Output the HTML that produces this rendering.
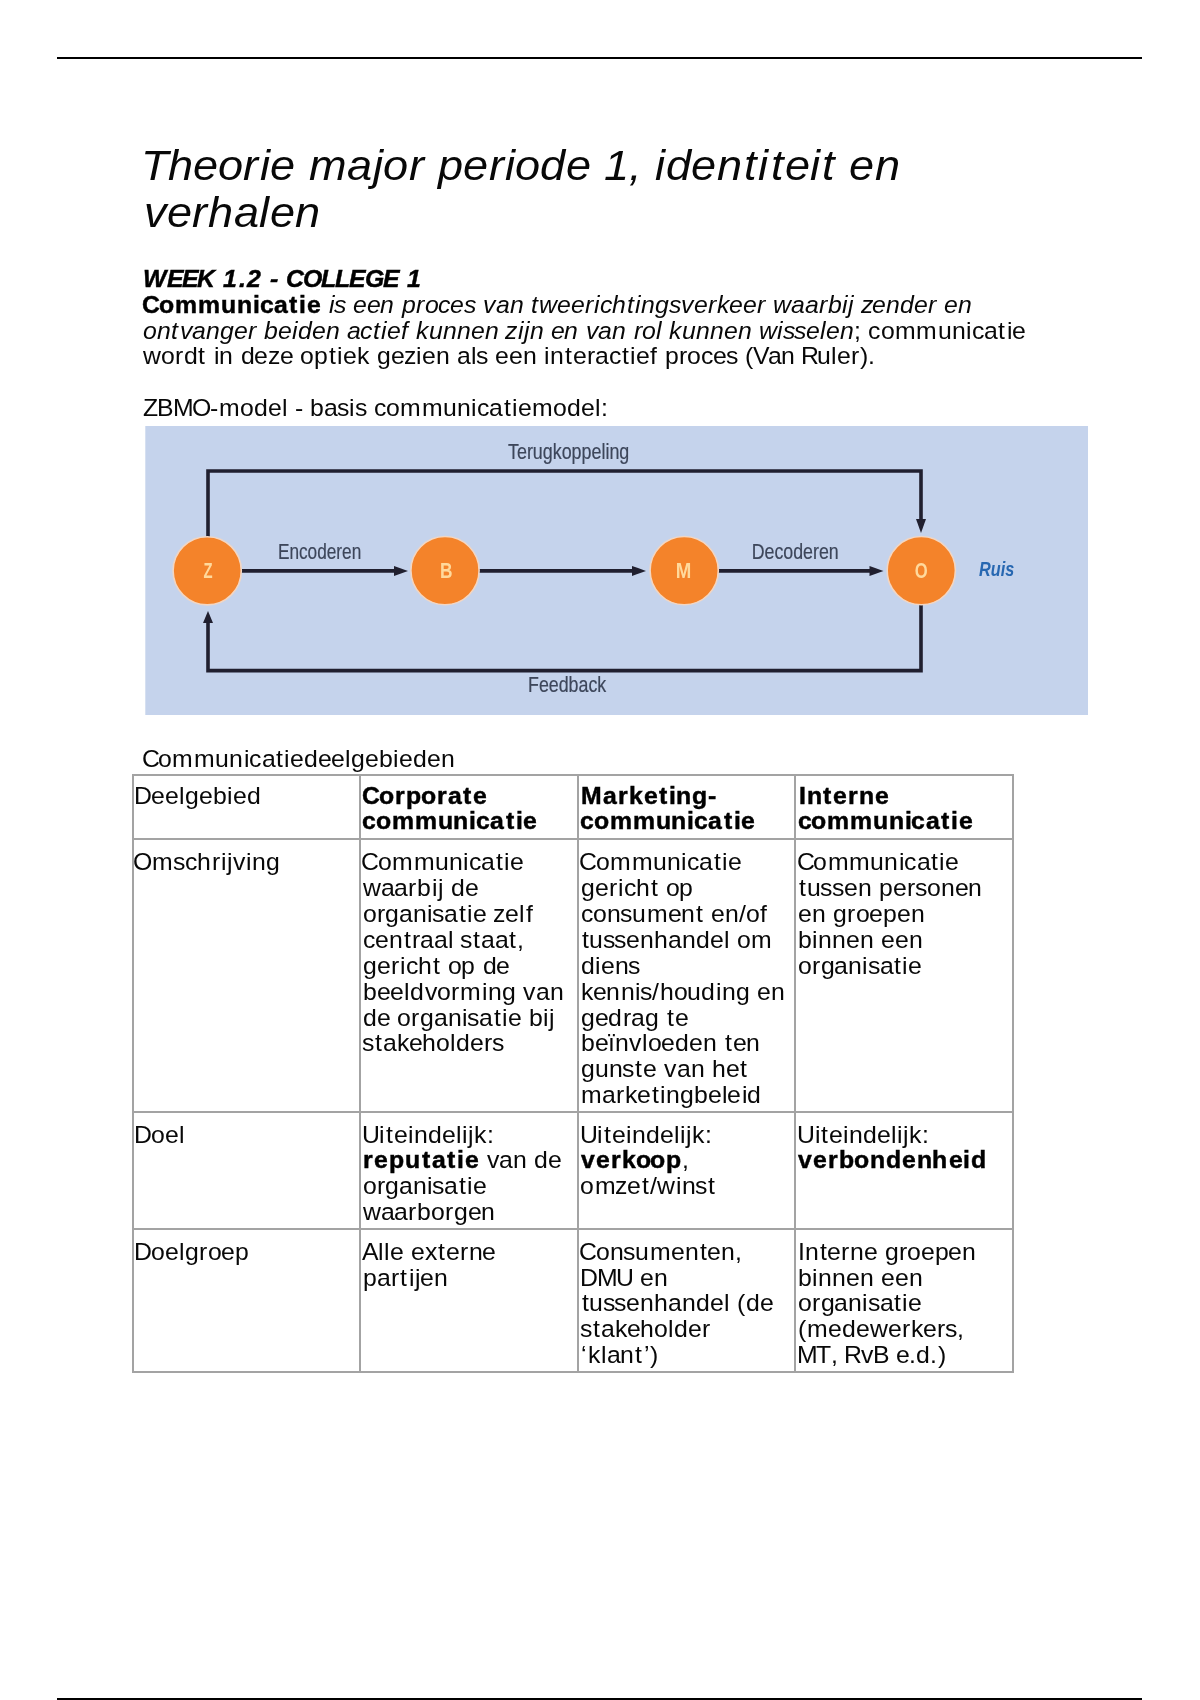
<!DOCTYPE html>
<html lang="nl"><head><meta charset="utf-8"><title>Theorie major periode 1, identiteit en verhalen</title>
<style>
html,body{margin:0;padding:0;background:#fff}
body{width:1200px;height:1700px;position:relative;overflow:hidden;font-family:"Liberation Sans", sans-serif;color:#000}
.t{position:absolute;left:0;top:0;width:1200px;height:1700px;will-change:transform}
.t span,span.r,span.b,span.i,span.bi{position:absolute;white-space:pre;line-height:0;transform-origin:0 0}
.r{font-weight:400;font-style:normal;color:#080808}
.b{font-weight:700;font-style:normal;-webkit-text-stroke:0.45px #000}
.i{font-weight:400;font-style:italic;color:#080808}
.bi{font-weight:700;font-style:italic;-webkit-text-stroke:0.45px #000}
.rule{position:absolute;left:57px;width:1085px;height:2px;background:#000}
.hl{position:absolute;background:#a3a3a3}
#diagram{position:absolute;left:0;top:0}
</style></head><body>
<div class="rule" style="top:57px"></div>
<div class="rule" style="top:1698px"></div>
<svg id="diagram" width="1200" height="1700" viewBox="0 0 1200 1700" style="position:absolute;left:0;top:0;will-change:transform">
<rect x="145.3" y="426" width="942.7" height="289" fill="#c5d3ec"/>
<g fill="none" stroke="#201f2f" stroke-width="3.6" stroke-linejoin="miter" stroke-linecap="butt">
<path d="M208 540 V471 H921 V520"/>
<path d="M921 602 V670.6 H208 V622"/>
<path d="M240 570.9 H396"/>
<path d="M478 570.9 H634"/>
<path d="M717 570.9 H872"/>
</g>
<g fill="#201f2f">
<path d="M916 519 H926 L921 533 Z"/>
<path d="M203 623 H213 L208 611 Z"/>
<path d="M394 565.9 V575.9 L408 570.9 Z"/>
<path d="M632 565.9 V575.9 L646 570.9 Z"/>
<path d="M869.5 565.9 V575.9 L883.5 570.9 Z"/>
</g>
<g fill="#f4832a" stroke="#f3d6c2" stroke-width="1.6">
<circle cx="207.2" cy="570.8" r="34.1"/>
<circle cx="445" cy="570.6" r="34.1"/>
<circle cx="684.2" cy="570.6" r="34.1"/>
<circle cx="921.3" cy="570.6" r="34.1"/>
</g>
<g font-family="Liberation Sans, sans-serif" fill="#ffd99c" font-size="22.5" font-weight="700" text-anchor="middle">
<text transform="translate(208 577.8) scale(0.66 1)">Z</text>
<text transform="translate(446.2 577.8) scale(0.77 1)">B</text>
<text transform="translate(683.6 577.8) scale(0.83 1)">M</text>
<text transform="translate(921.3 577.8) scale(0.74 1)">O</text>
</g>
<g font-family="Liberation Sans, sans-serif" fill="#3d465a" stroke="#3d465a" stroke-width="0.2" font-size="21.5">
<text x="508" y="458.7" textLength="121.3" lengthAdjust="spacingAndGlyphs">Terugkoppeling</text>
<text x="277.9" y="559.4" textLength="83.4" lengthAdjust="spacingAndGlyphs">Encoderen</text>
<text x="751.7" y="559" textLength="87" lengthAdjust="spacingAndGlyphs">Decoderen</text>
<text x="528" y="692.1" textLength="78.2" lengthAdjust="spacingAndGlyphs">Feedback</text>
</g>
<text x="979" y="575.7" textLength="35.2" lengthAdjust="spacingAndGlyphs" font-family="Liberation Sans, sans-serif" font-size="20.5" font-weight="700" font-style="italic" fill="#2767b1">Ruis</text>
</svg>

<div id="grid"></div>
<div class="hl" style="left:131.50px;top:773.90px;width:2.0px;height:599.40px"></div>
<div class="hl" style="left:359.00px;top:773.90px;width:2.0px;height:599.40px"></div>
<div class="hl" style="left:576.50px;top:773.90px;width:2.0px;height:599.40px"></div>
<div class="hl" style="left:794.00px;top:773.90px;width:2.0px;height:599.40px"></div>
<div class="hl" style="left:1011.50px;top:773.90px;width:2.0px;height:599.40px"></div>
<div class="hl" style="left:131.50px;top:773.90px;width:882.00px;height:2.0px"></div>
<div class="hl" style="left:131.50px;top:838.30px;width:882.00px;height:2.0px"></div>
<div class="hl" style="left:131.50px;top:1111.00px;width:882.00px;height:2.0px"></div>
<div class="hl" style="left:131.50px;top:1227.70px;width:882.00px;height:2.0px"></div>
<div class="hl" style="left:131.50px;top:1371.30px;width:882.00px;height:2.0px"></div>
<div class="t">
<span class="i" style="left:141.44px;top:165.00px;font-size:42.96px;transform:scaleX(1.0500)">T</span>
<span class="i" style="left:167.78px;top:165.00px;font-size:42.96px;transform:scaleX(1.0500)">h</span>
<span class="i" style="left:192.97px;top:165.00px;font-size:42.96px;transform:scaleX(1.0500)">e</span>
<span class="i" style="left:217.72px;top:165.00px;font-size:42.96px;transform:scaleX(1.0500)">o</span>
<span class="i" style="left:243.38px;top:165.00px;font-size:42.96px;transform:scaleX(1.0500)">r</span>
<span class="i" style="left:259.77px;top:165.00px;font-size:42.96px;transform:scaleX(1.0500)">i</span>
<span class="i" style="left:270.25px;top:165.00px;font-size:42.96px;transform:scaleX(1.0500)">e</span>
<span class="i" style="left:308.89px;top:165.00px;font-size:42.96px;transform:scaleX(1.0500)">m</span>
<span class="i" style="left:347.14px;top:165.00px;font-size:42.96px;transform:scaleX(1.0500)">a</span>
<span class="i" style="left:372.63px;top:165.00px;font-size:42.96px;transform:scaleX(1.0500)">j</span>
<span class="i" style="left:383.04px;top:165.00px;font-size:42.96px;transform:scaleX(1.0500)">o</span>
<span class="i" style="left:408.70px;top:165.00px;font-size:42.96px;transform:scaleX(1.0500)">r</span>
<span class="i" style="left:437.59px;top:165.00px;font-size:42.96px;transform:scaleX(1.0500)">p</span>
<span class="i" style="left:462.80px;top:165.00px;font-size:42.96px;transform:scaleX(1.0500)">e</span>
<span class="i" style="left:488.53px;top:165.00px;font-size:42.96px;transform:scaleX(1.0500)">r</span>
<span class="i" style="left:504.92px;top:165.00px;font-size:42.96px;transform:scaleX(1.0500)">i</span>
<span class="i" style="left:515.33px;top:165.00px;font-size:42.96px;transform:scaleX(1.0500)">o</span>
<span class="i" style="left:540.48px;top:165.00px;font-size:42.96px;transform:scaleX(1.0500)">d</span>
<span class="i" style="left:565.69px;top:165.00px;font-size:42.96px;transform:scaleX(1.0500)">e</span>
<span class="i" style="left:603.75px;top:165.00px;font-size:42.96px;transform:scaleX(1.0500)">1</span>
<span class="i" style="left:629.27px;top:165.00px;font-size:42.96px;transform:scaleX(1.0500)">,</span>
<span class="i" style="left:655.36px;top:165.00px;font-size:42.96px;transform:scaleX(1.0500)">i</span>
<span class="i" style="left:666.23px;top:165.00px;font-size:42.96px;transform:scaleX(1.0500)">d</span>
<span class="i" style="left:691.44px;top:165.00px;font-size:42.96px;transform:scaleX(1.0500)">e</span>
<span class="i" style="left:716.63px;top:165.00px;font-size:42.96px;transform:scaleX(1.0500)">n</span>
<span class="i" style="left:743.60px;top:165.00px;font-size:42.96px;transform:scaleX(1.0500)">t</span>
<span class="i" style="left:758.36px;top:165.00px;font-size:42.96px;transform:scaleX(1.0500)">i</span>
<span class="i" style="left:770.62px;top:165.00px;font-size:42.96px;transform:scaleX(1.0500)">t</span>
<span class="i" style="left:784.66px;top:165.00px;font-size:42.96px;transform:scaleX(1.0500)">e</span>
<span class="i" style="left:810.20px;top:165.00px;font-size:42.96px;transform:scaleX(1.0500)">i</span>
<span class="i" style="left:822.46px;top:165.00px;font-size:42.96px;transform:scaleX(1.0500)">t</span>
<span class="i" style="left:849.32px;top:165.00px;font-size:42.96px;transform:scaleX(1.0500)">e</span>
<span class="i" style="left:874.51px;top:165.00px;font-size:42.96px;transform:scaleX(1.0500)">n</span>
<span class="i" style="left:143.56px;top:211.50px;font-size:42.96px;transform:scaleX(1.0500)">v</span>
<span class="i" style="left:166.64px;top:211.50px;font-size:42.96px;transform:scaleX(1.0500)">e</span>
<span class="i" style="left:192.37px;top:211.50px;font-size:42.96px;transform:scaleX(1.0500)">r</span>
<span class="i" style="left:208.41px;top:211.50px;font-size:42.96px;transform:scaleX(1.0500)">h</span>
<span class="i" style="left:233.55px;top:211.50px;font-size:42.96px;transform:scaleX(1.0500)">a</span>
<span class="i" style="left:259.05px;top:211.50px;font-size:42.96px;transform:scaleX(1.0500)">l</span>
<span class="i" style="left:269.53px;top:211.50px;font-size:42.96px;transform:scaleX(1.0500)">e</span>
<span class="i" style="left:294.72px;top:211.50px;font-size:42.96px;transform:scaleX(1.0500)">n</span>
<span class="bi" style="left:143.43px;top:278.90px;font-size:23.63px;transform:scaleX(1.0500)">W</span>
<span class="bi" style="left:166.67px;top:278.90px;font-size:23.63px;transform:scaleX(1.0500)">E</span>
<span class="bi" style="left:181.83px;top:278.90px;font-size:23.63px;transform:scaleX(1.0500)">E</span>
<span class="bi" style="left:197.32px;top:278.90px;font-size:23.63px;transform:scaleX(1.0500)">K</span>
<span class="bi" style="left:223.41px;top:278.90px;font-size:23.63px;transform:scaleX(1.0500)">1</span>
<span class="bi" style="left:238.80px;top:278.90px;font-size:23.63px;transform:scaleX(1.0500)">.</span>
<span class="bi" style="left:247.28px;top:278.90px;font-size:23.63px;transform:scaleX(1.0500)">2</span>
<span class="bi" style="left:270.09px;top:278.90px;font-size:23.63px;transform:scaleX(1.0500)">-</span>
<span class="bi" style="left:285.73px;top:278.90px;font-size:23.63px;transform:scaleX(1.0500)">C</span>
<span class="bi" style="left:302.61px;top:278.90px;font-size:23.63px;transform:scaleX(1.0500)">O</span>
<span class="bi" style="left:321.18px;top:278.90px;font-size:23.63px;transform:scaleX(1.0500)">L</span>
<span class="bi" style="left:335.32px;top:278.90px;font-size:23.63px;transform:scaleX(1.0500)">L</span>
<span class="bi" style="left:349.27px;top:278.90px;font-size:23.63px;transform:scaleX(1.0500)">E</span>
<span class="bi" style="left:364.57px;top:278.90px;font-size:23.63px;transform:scaleX(1.0500)">G</span>
<span class="bi" style="left:382.63px;top:278.90px;font-size:23.63px;transform:scaleX(1.0500)">E</span>
<span class="bi" style="left:407.02px;top:278.90px;font-size:23.63px;transform:scaleX(1.0500)">1</span>
<span class="b" style="left:142.08px;top:304.72px;font-size:23.63px;transform:scaleX(1.0500)">C</span>
<span class="b" style="left:159.22px;top:304.72px;font-size:23.63px;transform:scaleX(1.0500)">o</span>
<span class="b" style="left:174.95px;top:304.72px;font-size:23.63px;transform:scaleX(1.0500)">m</span>
<span class="b" style="left:198.07px;top:304.72px;font-size:23.63px;transform:scaleX(1.0500)">m</span>
<span class="b" style="left:220.98px;top:304.72px;font-size:23.63px;transform:scaleX(1.0500)">u</span>
<span class="b" style="left:236.77px;top:304.72px;font-size:23.63px;transform:scaleX(1.0500)">n</span>
<span class="b" style="left:252.60px;top:304.72px;font-size:23.63px;transform:scaleX(1.0500)">i</span>
<span class="b" style="left:259.53px;top:304.72px;font-size:23.63px;transform:scaleX(1.0500)">c</span>
<span class="b" style="left:273.59px;top:304.72px;font-size:23.63px;transform:scaleX(1.0500)">a</span>
<span class="b" style="left:289.14px;top:304.72px;font-size:23.63px;transform:scaleX(1.0500)">t</span>
<span class="b" style="left:298.93px;top:304.72px;font-size:23.63px;transform:scaleX(1.0500)">i</span>
<span class="b" style="left:306.80px;top:304.72px;font-size:23.63px;transform:scaleX(1.0500)">e</span>
<span class="i" style="left:328.60px;top:304.72px;font-size:23.63px;transform:scaleX(1.0500)">i</span>
<span class="i" style="left:334.02px;top:304.72px;font-size:23.63px;transform:scaleX(1.0500)">s</span>
<span class="i" style="left:352.98px;top:304.72px;font-size:23.63px;transform:scaleX(1.0500)">e</span>
<span class="i" style="left:366.63px;top:304.72px;font-size:23.63px;transform:scaleX(1.0500)">e</span>
<span class="i" style="left:380.48px;top:304.72px;font-size:23.63px;transform:scaleX(1.0500)">n</span>
<span class="i" style="left:401.60px;top:304.72px;font-size:23.63px;transform:scaleX(1.0500)">p</span>
<span class="i" style="left:415.97px;top:304.72px;font-size:23.63px;transform:scaleX(1.0500)">r</span>
<span class="i" style="left:424.55px;top:304.72px;font-size:23.63px;transform:scaleX(1.0500)">o</span>
<span class="i" style="left:438.13px;top:304.72px;font-size:23.63px;transform:scaleX(1.0500)">c</span>
<span class="i" style="left:450.36px;top:304.72px;font-size:23.63px;transform:scaleX(1.0500)">e</span>
<span class="i" style="left:463.66px;top:304.72px;font-size:23.63px;transform:scaleX(1.0500)">s</span>
<span class="i" style="left:483.06px;top:304.72px;font-size:23.63px;transform:scaleX(1.0500)">v</span>
<span class="i" style="left:495.72px;top:304.72px;font-size:23.63px;transform:scaleX(1.0500)">a</span>
<span class="i" style="left:509.55px;top:304.72px;font-size:23.63px;transform:scaleX(1.0500)">n</span>
<span class="i" style="left:531.43px;top:304.72px;font-size:23.63px;transform:scaleX(1.0500)">t</span>
<span class="i" style="left:539.34px;top:304.72px;font-size:23.63px;transform:scaleX(1.0500)">w</span>
<span class="i" style="left:557.30px;top:304.72px;font-size:23.63px;transform:scaleX(1.0500)">e</span>
<span class="i" style="left:570.95px;top:304.72px;font-size:23.63px;transform:scaleX(1.0500)">e</span>
<span class="i" style="left:585.10px;top:304.72px;font-size:23.63px;transform:scaleX(1.0500)">r</span>
<span class="i" style="left:594.12px;top:304.72px;font-size:23.63px;transform:scaleX(1.0500)">i</span>
<span class="i" style="left:599.85px;top:304.72px;font-size:23.63px;transform:scaleX(1.0500)">c</span>
<span class="i" style="left:612.29px;top:304.72px;font-size:23.63px;transform:scaleX(1.0500)">h</span>
<span class="i" style="left:627.12px;top:304.72px;font-size:23.63px;transform:scaleX(1.0500)">t</span>
<span class="i" style="left:635.24px;top:304.72px;font-size:23.63px;transform:scaleX(1.0500)">i</span>
<span class="i" style="left:641.21px;top:304.72px;font-size:23.63px;transform:scaleX(1.0500)">n</span>
<span class="i" style="left:655.28px;top:304.72px;font-size:23.63px;transform:scaleX(1.0500)">g</span>
<span class="i" style="left:668.80px;top:304.72px;font-size:23.63px;transform:scaleX(1.0500)">s</span>
<span class="i" style="left:681.14px;top:304.72px;font-size:23.63px;transform:scaleX(1.0500)">v</span>
<span class="i" style="left:693.83px;top:304.72px;font-size:23.63px;transform:scaleX(1.0500)">e</span>
<span class="i" style="left:707.99px;top:304.72px;font-size:23.63px;transform:scaleX(1.0500)">r</span>
<span class="i" style="left:716.90px;top:304.72px;font-size:23.63px;transform:scaleX(1.0500)">k</span>
<span class="i" style="left:729.45px;top:304.72px;font-size:23.63px;transform:scaleX(1.0500)">e</span>
<span class="i" style="left:743.10px;top:304.72px;font-size:23.63px;transform:scaleX(1.0500)">e</span>
<span class="i" style="left:757.25px;top:304.72px;font-size:23.63px;transform:scaleX(1.0500)">r</span>
<span class="i" style="left:773.11px;top:304.72px;font-size:23.63px;transform:scaleX(1.0500)">w</span>
<span class="i" style="left:791.04px;top:304.72px;font-size:23.63px;transform:scaleX(1.0500)">a</span>
<span class="i" style="left:804.63px;top:304.72px;font-size:23.63px;transform:scaleX(1.0500)">a</span>
<span class="i" style="left:818.76px;top:304.72px;font-size:23.63px;transform:scaleX(1.0500)">r</span>
<span class="i" style="left:827.59px;top:304.72px;font-size:23.63px;transform:scaleX(1.0500)">b</span>
<span class="i" style="left:841.86px;top:304.72px;font-size:23.63px;transform:scaleX(1.0500)">i</span>
<span class="i" style="left:848.02px;top:304.72px;font-size:23.63px;transform:scaleX(1.0500)">j</span>
<span class="i" style="left:860.53px;top:304.72px;font-size:23.63px;transform:scaleX(1.0500)">z</span>
<span class="i" style="left:872.48px;top:304.72px;font-size:23.63px;transform:scaleX(1.0500)">e</span>
<span class="i" style="left:886.34px;top:304.72px;font-size:23.63px;transform:scaleX(1.0500)">n</span>
<span class="i" style="left:900.41px;top:304.72px;font-size:23.63px;transform:scaleX(1.0500)">d</span>
<span class="i" style="left:914.28px;top:304.72px;font-size:23.63px;transform:scaleX(1.0500)">e</span>
<span class="i" style="left:928.43px;top:304.72px;font-size:23.63px;transform:scaleX(1.0500)">r</span>
<span class="i" style="left:944.10px;top:304.72px;font-size:23.63px;transform:scaleX(1.0500)">e</span>
<span class="i" style="left:957.95px;top:304.72px;font-size:23.63px;transform:scaleX(1.0500)">n</span>
<span class="i" style="left:142.79px;top:330.54px;font-size:23.63px;transform:scaleX(1.0500)">o</span>
<span class="i" style="left:156.60px;top:330.54px;font-size:23.63px;transform:scaleX(1.0500)">n</span>
<span class="i" style="left:171.44px;top:330.54px;font-size:23.63px;transform:scaleX(1.0500)">t</span>
<span class="i" style="left:179.59px;top:330.54px;font-size:23.63px;transform:scaleX(1.0500)">v</span>
<span class="i" style="left:192.26px;top:330.54px;font-size:23.63px;transform:scaleX(1.0500)">a</span>
<span class="i" style="left:206.09px;top:330.54px;font-size:23.63px;transform:scaleX(1.0500)">n</span>
<span class="i" style="left:220.16px;top:330.54px;font-size:23.63px;transform:scaleX(1.0500)">g</span>
<span class="i" style="left:234.02px;top:330.54px;font-size:23.63px;transform:scaleX(1.0500)">e</span>
<span class="i" style="left:248.18px;top:330.54px;font-size:23.63px;transform:scaleX(1.0500)">r</span>
<span class="i" style="left:264.06px;top:330.54px;font-size:23.63px;transform:scaleX(1.0500)">b</span>
<span class="i" style="left:277.93px;top:330.54px;font-size:23.63px;transform:scaleX(1.0500)">e</span>
<span class="i" style="left:291.98px;top:330.54px;font-size:23.63px;transform:scaleX(1.0500)">i</span>
<span class="i" style="left:297.96px;top:330.54px;font-size:23.63px;transform:scaleX(1.0500)">d</span>
<span class="i" style="left:311.82px;top:330.54px;font-size:23.63px;transform:scaleX(1.0500)">e</span>
<span class="i" style="left:325.68px;top:330.54px;font-size:23.63px;transform:scaleX(1.0500)">n</span>
<span class="i" style="left:346.56px;top:330.54px;font-size:23.63px;transform:scaleX(1.0500)">a</span>
<span class="i" style="left:360.15px;top:330.54px;font-size:23.63px;transform:scaleX(1.0500)">c</span>
<span class="i" style="left:373.35px;top:330.54px;font-size:23.63px;transform:scaleX(1.0500)">t</span>
<span class="i" style="left:381.48px;top:330.54px;font-size:23.63px;transform:scaleX(1.0500)">i</span>
<span class="i" style="left:387.24px;top:330.54px;font-size:23.63px;transform:scaleX(1.0500)">e</span>
<span class="i" style="left:401.42px;top:330.54px;font-size:23.63px;transform:scaleX(1.0500)">f</span>
<span class="i" style="left:416.05px;top:330.54px;font-size:23.63px;transform:scaleX(1.0500)">k</span>
<span class="i" style="left:428.80px;top:330.54px;font-size:23.63px;transform:scaleX(1.0500)">u</span>
<span class="i" style="left:442.86px;top:330.54px;font-size:23.63px;transform:scaleX(1.0500)">n</span>
<span class="i" style="left:456.93px;top:330.54px;font-size:23.63px;transform:scaleX(1.0500)">n</span>
<span class="i" style="left:470.78px;top:330.54px;font-size:23.63px;transform:scaleX(1.0500)">e</span>
<span class="i" style="left:484.64px;top:330.54px;font-size:23.63px;transform:scaleX(1.0500)">n</span>
<span class="i" style="left:505.24px;top:330.54px;font-size:23.63px;transform:scaleX(1.0500)">z</span>
<span class="i" style="left:517.59px;top:330.54px;font-size:23.63px;transform:scaleX(1.0500)">i</span>
<span class="i" style="left:523.75px;top:330.54px;font-size:23.63px;transform:scaleX(1.0500)">j</span>
<span class="i" style="left:529.72px;top:330.54px;font-size:23.63px;transform:scaleX(1.0500)">n</span>
<span class="i" style="left:550.63px;top:330.54px;font-size:23.63px;transform:scaleX(1.0500)">e</span>
<span class="i" style="left:564.48px;top:330.54px;font-size:23.63px;transform:scaleX(1.0500)">n</span>
<span class="i" style="left:585.82px;top:330.54px;font-size:23.63px;transform:scaleX(1.0500)">v</span>
<span class="i" style="left:598.49px;top:330.54px;font-size:23.63px;transform:scaleX(1.0500)">a</span>
<span class="i" style="left:612.32px;top:330.54px;font-size:23.63px;transform:scaleX(1.0500)">n</span>
<span class="i" style="left:633.73px;top:330.54px;font-size:23.63px;transform:scaleX(1.0500)">r</span>
<span class="i" style="left:642.31px;top:330.54px;font-size:23.63px;transform:scaleX(1.0500)">o</span>
<span class="i" style="left:656.32px;top:330.54px;font-size:23.63px;transform:scaleX(1.0500)">l</span>
<span class="i" style="left:669.43px;top:330.54px;font-size:23.63px;transform:scaleX(1.0500)">k</span>
<span class="i" style="left:682.19px;top:330.54px;font-size:23.63px;transform:scaleX(1.0500)">u</span>
<span class="i" style="left:696.25px;top:330.54px;font-size:23.63px;transform:scaleX(1.0500)">n</span>
<span class="i" style="left:710.31px;top:330.54px;font-size:23.63px;transform:scaleX(1.0500)">n</span>
<span class="i" style="left:724.16px;top:330.54px;font-size:23.63px;transform:scaleX(1.0500)">e</span>
<span class="i" style="left:738.02px;top:330.54px;font-size:23.63px;transform:scaleX(1.0500)">n</span>
<span class="i" style="left:759.11px;top:330.54px;font-size:23.63px;transform:scaleX(1.0500)">w</span>
<span class="i" style="left:777.47px;top:330.54px;font-size:23.63px;transform:scaleX(1.0500)">i</span>
<span class="i" style="left:782.89px;top:330.54px;font-size:23.63px;transform:scaleX(1.0500)">s</span>
<span class="i" style="left:794.44px;top:330.54px;font-size:23.63px;transform:scaleX(1.0500)">s</span>
<span class="i" style="left:806.35px;top:330.54px;font-size:23.63px;transform:scaleX(1.0500)">e</span>
<span class="i" style="left:820.40px;top:330.54px;font-size:23.63px;transform:scaleX(1.0500)">l</span>
<span class="i" style="left:826.16px;top:330.54px;font-size:23.63px;transform:scaleX(1.0500)">e</span>
<span class="i" style="left:840.02px;top:330.54px;font-size:23.63px;transform:scaleX(1.0500)">n</span>
<span class="r" style="left:854.24px;top:330.54px;font-size:23.63px;transform:scaleX(1.0500)">;</span>
<span class="r" style="left:868.37px;top:330.54px;font-size:23.63px;transform:scaleX(1.0500)">c</span>
<span class="r" style="left:880.56px;top:330.54px;font-size:23.63px;transform:scaleX(1.0500)">o</span>
<span class="r" style="left:894.72px;top:330.54px;font-size:23.63px;transform:scaleX(1.0500)">m</span>
<span class="r" style="left:916.33px;top:330.54px;font-size:23.63px;transform:scaleX(1.0500)">m</span>
<span class="r" style="left:937.60px;top:330.54px;font-size:23.63px;transform:scaleX(1.0500)">u</span>
<span class="r" style="left:951.66px;top:330.54px;font-size:23.63px;transform:scaleX(1.0500)">n</span>
<span class="r" style="left:965.91px;top:330.54px;font-size:23.63px;transform:scaleX(1.0500)">i</span>
<span class="r" style="left:971.65px;top:330.54px;font-size:23.63px;transform:scaleX(1.0500)">c</span>
<span class="r" style="left:983.85px;top:330.54px;font-size:23.63px;transform:scaleX(1.0500)">a</span>
<span class="r" style="left:998.45px;top:330.54px;font-size:23.63px;transform:scaleX(1.0500)">t</span>
<span class="r" style="left:1006.57px;top:330.54px;font-size:23.63px;transform:scaleX(1.0500)">i</span>
<span class="r" style="left:1012.33px;top:330.54px;font-size:23.63px;transform:scaleX(1.0500)">e</span>
<span class="r" style="left:143.01px;top:356.36px;font-size:23.63px;transform:scaleX(1.0500)">w</span>
<span class="r" style="left:160.93px;top:356.36px;font-size:23.63px;transform:scaleX(1.0500)">o</span>
<span class="r" style="left:175.05px;top:356.36px;font-size:23.63px;transform:scaleX(1.0500)">r</span>
<span class="r" style="left:183.69px;top:356.36px;font-size:23.63px;transform:scaleX(1.0500)">d</span>
<span class="r" style="left:198.33px;top:356.36px;font-size:23.63px;transform:scaleX(1.0500)">t</span>
<span class="r" style="left:213.51px;top:356.36px;font-size:23.63px;transform:scaleX(1.0500)">i</span>
<span class="r" style="left:219.48px;top:356.36px;font-size:23.63px;transform:scaleX(1.0500)">n</span>
<span class="r" style="left:240.60px;top:356.36px;font-size:23.63px;transform:scaleX(1.0500)">d</span>
<span class="r" style="left:254.47px;top:356.36px;font-size:23.63px;transform:scaleX(1.0500)">e</span>
<span class="r" style="left:267.81px;top:356.36px;font-size:23.63px;transform:scaleX(1.0500)">z</span>
<span class="r" style="left:279.76px;top:356.36px;font-size:23.63px;transform:scaleX(1.0500)">e</span>
<span class="r" style="left:300.42px;top:356.36px;font-size:23.63px;transform:scaleX(1.0500)">o</span>
<span class="r" style="left:314.25px;top:356.36px;font-size:23.63px;transform:scaleX(1.0500)">p</span>
<span class="r" style="left:329.09px;top:356.36px;font-size:23.63px;transform:scaleX(1.0500)">t</span>
<span class="r" style="left:337.21px;top:356.36px;font-size:23.63px;transform:scaleX(1.0500)">i</span>
<span class="r" style="left:342.98px;top:356.36px;font-size:23.63px;transform:scaleX(1.0500)">e</span>
<span class="r" style="left:356.92px;top:356.36px;font-size:23.63px;transform:scaleX(1.0500)">k</span>
<span class="r" style="left:376.74px;top:356.36px;font-size:23.63px;transform:scaleX(1.0500)">g</span>
<span class="r" style="left:390.61px;top:356.36px;font-size:23.63px;transform:scaleX(1.0500)">e</span>
<span class="r" style="left:403.95px;top:356.36px;font-size:23.63px;transform:scaleX(1.0500)">z</span>
<span class="r" style="left:416.30px;top:356.36px;font-size:23.63px;transform:scaleX(1.0500)">i</span>
<span class="r" style="left:422.07px;top:356.36px;font-size:23.63px;transform:scaleX(1.0500)">e</span>
<span class="r" style="left:435.92px;top:356.36px;font-size:23.63px;transform:scaleX(1.0500)">n</span>
<span class="r" style="left:456.80px;top:356.36px;font-size:23.63px;transform:scaleX(1.0500)">a</span>
<span class="r" style="left:470.82px;top:356.36px;font-size:23.63px;transform:scaleX(1.0500)">l</span>
<span class="r" style="left:476.24px;top:356.36px;font-size:23.63px;transform:scaleX(1.0500)">s</span>
<span class="r" style="left:495.20px;top:356.36px;font-size:23.63px;transform:scaleX(1.0500)">e</span>
<span class="r" style="left:508.85px;top:356.36px;font-size:23.63px;transform:scaleX(1.0500)">e</span>
<span class="r" style="left:522.70px;top:356.36px;font-size:23.63px;transform:scaleX(1.0500)">n</span>
<span class="r" style="left:544.01px;top:356.36px;font-size:23.63px;transform:scaleX(1.0500)">i</span>
<span class="r" style="left:549.98px;top:356.36px;font-size:23.63px;transform:scaleX(1.0500)">n</span>
<span class="r" style="left:564.81px;top:356.36px;font-size:23.63px;transform:scaleX(1.0500)">t</span>
<span class="r" style="left:572.53px;top:356.36px;font-size:23.63px;transform:scaleX(1.0500)">e</span>
<span class="r" style="left:586.68px;top:356.36px;font-size:23.63px;transform:scaleX(1.0500)">r</span>
<span class="r" style="left:595.27px;top:356.36px;font-size:23.63px;transform:scaleX(1.0500)">a</span>
<span class="r" style="left:608.87px;top:356.36px;font-size:23.63px;transform:scaleX(1.0500)">c</span>
<span class="r" style="left:622.07px;top:356.36px;font-size:23.63px;transform:scaleX(1.0500)">t</span>
<span class="r" style="left:630.19px;top:356.36px;font-size:23.63px;transform:scaleX(1.0500)">i</span>
<span class="r" style="left:635.95px;top:356.36px;font-size:23.63px;transform:scaleX(1.0500)">e</span>
<span class="r" style="left:650.14px;top:356.36px;font-size:23.63px;transform:scaleX(1.0500)">f</span>
<span class="r" style="left:664.68px;top:356.36px;font-size:23.63px;transform:scaleX(1.0500)">p</span>
<span class="r" style="left:679.05px;top:356.36px;font-size:23.63px;transform:scaleX(1.0500)">r</span>
<span class="r" style="left:687.39px;top:356.36px;font-size:23.63px;transform:scaleX(1.0500)">o</span>
<span class="r" style="left:700.72px;top:356.36px;font-size:23.63px;transform:scaleX(1.0500)">c</span>
<span class="r" style="left:712.95px;top:356.36px;font-size:23.63px;transform:scaleX(1.0500)">e</span>
<span class="r" style="left:726.25px;top:356.36px;font-size:23.63px;transform:scaleX(1.0500)">s</span>
<span class="r" style="left:745.48px;top:356.36px;font-size:23.63px;transform:scaleX(1.0500)">(</span>
<span class="r" style="left:753.25px;top:356.36px;font-size:23.63px;transform:scaleX(1.0500)">V</span>
<span class="r" style="left:768.15px;top:356.36px;font-size:23.63px;transform:scaleX(1.0500)">a</span>
<span class="r" style="left:781.12px;top:356.36px;font-size:23.63px;transform:scaleX(1.0500)">n</span>
<span class="r" style="left:800.85px;top:356.36px;font-size:23.63px;transform:scaleX(1.0500)">R</span>
<span class="r" style="left:817.15px;top:356.36px;font-size:23.63px;transform:scaleX(1.0500)">u</span>
<span class="r" style="left:830.91px;top:356.36px;font-size:23.63px;transform:scaleX(1.0500)">l</span>
<span class="r" style="left:836.67px;top:356.36px;font-size:23.63px;transform:scaleX(1.0500)">e</span>
<span class="r" style="left:850.82px;top:356.36px;font-size:23.63px;transform:scaleX(1.0500)">r</span>
<span class="r" style="left:859.71px;top:356.36px;font-size:23.63px;transform:scaleX(1.0500)">)</span>
<span class="r" style="left:868.25px;top:356.36px;font-size:23.63px;transform:scaleX(1.0500)">.</span>
<span class="r" style="left:142.92px;top:407.80px;font-size:23.63px;transform:scaleX(1.0500)">Z</span>
<span class="r" style="left:157.43px;top:407.80px;font-size:23.63px;transform:scaleX(1.0500)">B</span>
<span class="r" style="left:172.56px;top:407.80px;font-size:23.63px;transform:scaleX(1.0500)">M</span>
<span class="r" style="left:191.54px;top:407.80px;font-size:23.63px;transform:scaleX(1.0500)">O</span>
<span class="r" style="left:210.10px;top:407.80px;font-size:23.63px;transform:scaleX(1.0500)">-</span>
<span class="r" style="left:219.02px;top:407.80px;font-size:23.63px;transform:scaleX(1.0500)">m</span>
<span class="r" style="left:240.04px;top:407.80px;font-size:23.63px;transform:scaleX(1.0500)">o</span>
<span class="r" style="left:253.87px;top:407.80px;font-size:23.63px;transform:scaleX(1.0500)">d</span>
<span class="r" style="left:267.73px;top:407.80px;font-size:23.63px;transform:scaleX(1.0500)">e</span>
<span class="r" style="left:281.78px;top:407.80px;font-size:23.63px;transform:scaleX(1.0500)">l</span>
<span class="r" style="left:294.55px;top:407.80px;font-size:23.63px;transform:scaleX(1.0500)">-</span>
<span class="r" style="left:309.87px;top:407.80px;font-size:23.63px;transform:scaleX(1.0500)">b</span>
<span class="r" style="left:323.71px;top:407.80px;font-size:23.63px;transform:scaleX(1.0500)">a</span>
<span class="r" style="left:336.99px;top:407.80px;font-size:23.63px;transform:scaleX(1.0500)">s</span>
<span class="r" style="left:349.29px;top:407.80px;font-size:23.63px;transform:scaleX(1.0500)">i</span>
<span class="r" style="left:354.71px;top:407.80px;font-size:23.63px;transform:scaleX(1.0500)">s</span>
<span class="r" style="left:373.64px;top:407.80px;font-size:23.63px;transform:scaleX(1.0500)">c</span>
<span class="r" style="left:385.83px;top:407.80px;font-size:23.63px;transform:scaleX(1.0500)">o</span>
<span class="r" style="left:399.98px;top:407.80px;font-size:23.63px;transform:scaleX(1.0500)">m</span>
<span class="r" style="left:421.59px;top:407.80px;font-size:23.63px;transform:scaleX(1.0500)">m</span>
<span class="r" style="left:442.86px;top:407.80px;font-size:23.63px;transform:scaleX(1.0500)">u</span>
<span class="r" style="left:456.92px;top:407.80px;font-size:23.63px;transform:scaleX(1.0500)">n</span>
<span class="r" style="left:471.18px;top:407.80px;font-size:23.63px;transform:scaleX(1.0500)">i</span>
<span class="r" style="left:476.91px;top:407.80px;font-size:23.63px;transform:scaleX(1.0500)">c</span>
<span class="r" style="left:489.11px;top:407.80px;font-size:23.63px;transform:scaleX(1.0500)">a</span>
<span class="r" style="left:503.71px;top:407.80px;font-size:23.63px;transform:scaleX(1.0500)">t</span>
<span class="r" style="left:511.83px;top:407.80px;font-size:23.63px;transform:scaleX(1.0500)">i</span>
<span class="r" style="left:517.60px;top:407.80px;font-size:23.63px;transform:scaleX(1.0500)">e</span>
<span class="r" style="left:531.79px;top:407.80px;font-size:23.63px;transform:scaleX(1.0500)">m</span>
<span class="r" style="left:552.82px;top:407.80px;font-size:23.63px;transform:scaleX(1.0500)">o</span>
<span class="r" style="left:566.65px;top:407.80px;font-size:23.63px;transform:scaleX(1.0500)">d</span>
<span class="r" style="left:580.51px;top:407.80px;font-size:23.63px;transform:scaleX(1.0500)">e</span>
<span class="r" style="left:594.56px;top:407.80px;font-size:23.63px;transform:scaleX(1.0500)">l</span>
<span class="r" style="left:600.69px;top:407.80px;font-size:23.63px;transform:scaleX(1.0500)">:</span>
<span class="r" style="left:141.69px;top:759.30px;font-size:23.63px;transform:scaleX(1.0500)">C</span>
<span class="r" style="left:158.28px;top:759.30px;font-size:23.63px;transform:scaleX(1.0500)">o</span>
<span class="r" style="left:172.44px;top:759.30px;font-size:23.63px;transform:scaleX(1.0500)">m</span>
<span class="r" style="left:194.05px;top:759.30px;font-size:23.63px;transform:scaleX(1.0500)">m</span>
<span class="r" style="left:215.32px;top:759.30px;font-size:23.63px;transform:scaleX(1.0500)">u</span>
<span class="r" style="left:229.38px;top:759.30px;font-size:23.63px;transform:scaleX(1.0500)">n</span>
<span class="r" style="left:243.63px;top:759.30px;font-size:23.63px;transform:scaleX(1.0500)">i</span>
<span class="r" style="left:249.37px;top:759.30px;font-size:23.63px;transform:scaleX(1.0500)">c</span>
<span class="r" style="left:261.57px;top:759.30px;font-size:23.63px;transform:scaleX(1.0500)">a</span>
<span class="r" style="left:276.17px;top:759.30px;font-size:23.63px;transform:scaleX(1.0500)">t</span>
<span class="r" style="left:284.29px;top:759.30px;font-size:23.63px;transform:scaleX(1.0500)">i</span>
<span class="r" style="left:290.05px;top:759.30px;font-size:23.63px;transform:scaleX(1.0500)">e</span>
<span class="r" style="left:303.92px;top:759.30px;font-size:23.63px;transform:scaleX(1.0500)">d</span>
<span class="r" style="left:317.78px;top:759.30px;font-size:23.63px;transform:scaleX(1.0500)">e</span>
<span class="r" style="left:331.43px;top:759.30px;font-size:23.63px;transform:scaleX(1.0500)">e</span>
<span class="r" style="left:345.48px;top:759.30px;font-size:23.63px;transform:scaleX(1.0500)">l</span>
<span class="r" style="left:351.46px;top:759.30px;font-size:23.63px;transform:scaleX(1.0500)">g</span>
<span class="r" style="left:365.33px;top:759.30px;font-size:23.63px;transform:scaleX(1.0500)">e</span>
<span class="r" style="left:379.19px;top:759.30px;font-size:23.63px;transform:scaleX(1.0500)">b</span>
<span class="r" style="left:393.46px;top:759.30px;font-size:23.63px;transform:scaleX(1.0500)">i</span>
<span class="r" style="left:399.22px;top:759.30px;font-size:23.63px;transform:scaleX(1.0500)">e</span>
<span class="r" style="left:413.09px;top:759.30px;font-size:23.63px;transform:scaleX(1.0500)">d</span>
<span class="r" style="left:426.95px;top:759.30px;font-size:23.63px;transform:scaleX(1.0500)">e</span>
<span class="r" style="left:440.81px;top:759.30px;font-size:23.63px;transform:scaleX(1.0500)">n</span>
<span class="r" style="left:133.78px;top:795.50px;font-size:23.63px;transform:scaleX(1.0500)">D</span>
<span class="r" style="left:151.21px;top:795.50px;font-size:23.63px;transform:scaleX(1.0500)">e</span>
<span class="r" style="left:164.86px;top:795.50px;font-size:23.63px;transform:scaleX(1.0500)">e</span>
<span class="r" style="left:178.91px;top:795.50px;font-size:23.63px;transform:scaleX(1.0500)">l</span>
<span class="r" style="left:184.89px;top:795.50px;font-size:23.63px;transform:scaleX(1.0500)">g</span>
<span class="r" style="left:198.75px;top:795.50px;font-size:23.63px;transform:scaleX(1.0500)">e</span>
<span class="r" style="left:212.62px;top:795.50px;font-size:23.63px;transform:scaleX(1.0500)">b</span>
<span class="r" style="left:226.88px;top:795.50px;font-size:23.63px;transform:scaleX(1.0500)">i</span>
<span class="r" style="left:232.65px;top:795.50px;font-size:23.63px;transform:scaleX(1.0500)">e</span>
<span class="r" style="left:246.51px;top:795.50px;font-size:23.63px;transform:scaleX(1.0500)">d</span>
<span class="b" style="left:361.88px;top:795.50px;font-size:23.63px;transform:scaleX(1.0500)">C</span>
<span class="b" style="left:379.02px;top:795.50px;font-size:23.63px;transform:scaleX(1.0500)">o</span>
<span class="b" style="left:394.87px;top:795.50px;font-size:23.63px;transform:scaleX(1.0500)">r</span>
<span class="b" style="left:405.53px;top:795.50px;font-size:23.63px;transform:scaleX(1.0500)">p</span>
<span class="b" style="left:421.09px;top:795.50px;font-size:23.63px;transform:scaleX(1.0500)">o</span>
<span class="b" style="left:436.93px;top:795.50px;font-size:23.63px;transform:scaleX(1.0500)">r</span>
<span class="b" style="left:447.81px;top:795.50px;font-size:23.63px;transform:scaleX(1.0500)">a</span>
<span class="b" style="left:463.37px;top:795.50px;font-size:23.63px;transform:scaleX(1.0500)">t</span>
<span class="b" style="left:473.43px;top:795.50px;font-size:23.63px;transform:scaleX(1.0500)">e</span>
<span class="b" style="left:362.38px;top:821.35px;font-size:23.63px;transform:scaleX(1.0500)">c</span>
<span class="b" style="left:375.89px;top:821.35px;font-size:23.63px;transform:scaleX(1.0500)">o</span>
<span class="b" style="left:391.62px;top:821.35px;font-size:23.63px;transform:scaleX(1.0500)">m</span>
<span class="b" style="left:414.74px;top:821.35px;font-size:23.63px;transform:scaleX(1.0500)">m</span>
<span class="b" style="left:437.65px;top:821.35px;font-size:23.63px;transform:scaleX(1.0500)">u</span>
<span class="b" style="left:453.44px;top:821.35px;font-size:23.63px;transform:scaleX(1.0500)">n</span>
<span class="b" style="left:469.27px;top:821.35px;font-size:23.63px;transform:scaleX(1.0500)">i</span>
<span class="b" style="left:476.19px;top:821.35px;font-size:23.63px;transform:scaleX(1.0500)">c</span>
<span class="b" style="left:490.26px;top:821.35px;font-size:23.63px;transform:scaleX(1.0500)">a</span>
<span class="b" style="left:505.81px;top:821.35px;font-size:23.63px;transform:scaleX(1.0500)">t</span>
<span class="b" style="left:515.60px;top:821.35px;font-size:23.63px;transform:scaleX(1.0500)">i</span>
<span class="b" style="left:523.47px;top:821.35px;font-size:23.63px;transform:scaleX(1.0500)">e</span>
<span class="b" style="left:581.31px;top:795.50px;font-size:23.63px;transform:scaleX(1.0500)">M</span>
<span class="b" style="left:603.26px;top:795.50px;font-size:23.63px;transform:scaleX(1.0500)">a</span>
<span class="b" style="left:618.29px;top:795.50px;font-size:23.63px;transform:scaleX(1.0500)">r</span>
<span class="b" style="left:629.07px;top:795.50px;font-size:23.63px;transform:scaleX(1.0500)">k</span>
<span class="b" style="left:643.67px;top:795.50px;font-size:23.63px;transform:scaleX(1.0500)">e</span>
<span class="b" style="left:658.96px;top:795.50px;font-size:23.63px;transform:scaleX(1.0500)">t</span>
<span class="b" style="left:668.75px;top:795.50px;font-size:23.63px;transform:scaleX(1.0500)">i</span>
<span class="b" style="left:676.32px;top:795.50px;font-size:23.63px;transform:scaleX(1.0500)">n</span>
<span class="b" style="left:692.16px;top:795.50px;font-size:23.63px;transform:scaleX(1.0500)">g</span>
<span class="b" style="left:708.15px;top:795.50px;font-size:23.63px;transform:scaleX(1.0500)">-</span>
<span class="b" style="left:580.28px;top:821.35px;font-size:23.63px;transform:scaleX(1.0500)">c</span>
<span class="b" style="left:593.79px;top:821.35px;font-size:23.63px;transform:scaleX(1.0500)">o</span>
<span class="b" style="left:609.52px;top:821.35px;font-size:23.63px;transform:scaleX(1.0500)">m</span>
<span class="b" style="left:632.64px;top:821.35px;font-size:23.63px;transform:scaleX(1.0500)">m</span>
<span class="b" style="left:655.55px;top:821.35px;font-size:23.63px;transform:scaleX(1.0500)">u</span>
<span class="b" style="left:671.34px;top:821.35px;font-size:23.63px;transform:scaleX(1.0500)">n</span>
<span class="b" style="left:687.17px;top:821.35px;font-size:23.63px;transform:scaleX(1.0500)">i</span>
<span class="b" style="left:694.09px;top:821.35px;font-size:23.63px;transform:scaleX(1.0500)">c</span>
<span class="b" style="left:708.16px;top:821.35px;font-size:23.63px;transform:scaleX(1.0500)">a</span>
<span class="b" style="left:723.71px;top:821.35px;font-size:23.63px;transform:scaleX(1.0500)">t</span>
<span class="b" style="left:733.50px;top:821.35px;font-size:23.63px;transform:scaleX(1.0500)">i</span>
<span class="b" style="left:741.37px;top:821.35px;font-size:23.63px;transform:scaleX(1.0500)">e</span>
<span class="b" style="left:798.68px;top:795.50px;font-size:23.63px;transform:scaleX(1.0500)">I</span>
<span class="b" style="left:806.57px;top:795.50px;font-size:23.63px;transform:scaleX(1.0500)">n</span>
<span class="b" style="left:823.22px;top:795.50px;font-size:23.63px;transform:scaleX(1.0500)">t</span>
<span class="b" style="left:833.28px;top:795.50px;font-size:23.63px;transform:scaleX(1.0500)">e</span>
<span class="b" style="left:848.34px;top:795.50px;font-size:23.63px;transform:scaleX(1.0500)">r</span>
<span class="b" style="left:858.96px;top:795.50px;font-size:23.63px;transform:scaleX(1.0500)">n</span>
<span class="b" style="left:875.06px;top:795.50px;font-size:23.63px;transform:scaleX(1.0500)">e</span>
<span class="b" style="left:797.68px;top:821.35px;font-size:23.63px;transform:scaleX(1.0500)">c</span>
<span class="b" style="left:811.19px;top:821.35px;font-size:23.63px;transform:scaleX(1.0500)">o</span>
<span class="b" style="left:826.92px;top:821.35px;font-size:23.63px;transform:scaleX(1.0500)">m</span>
<span class="b" style="left:850.04px;top:821.35px;font-size:23.63px;transform:scaleX(1.0500)">m</span>
<span class="b" style="left:872.95px;top:821.35px;font-size:23.63px;transform:scaleX(1.0500)">u</span>
<span class="b" style="left:888.74px;top:821.35px;font-size:23.63px;transform:scaleX(1.0500)">n</span>
<span class="b" style="left:904.57px;top:821.35px;font-size:23.63px;transform:scaleX(1.0500)">i</span>
<span class="b" style="left:911.49px;top:821.35px;font-size:23.63px;transform:scaleX(1.0500)">c</span>
<span class="b" style="left:925.56px;top:821.35px;font-size:23.63px;transform:scaleX(1.0500)">a</span>
<span class="b" style="left:941.11px;top:821.35px;font-size:23.63px;transform:scaleX(1.0500)">t</span>
<span class="b" style="left:950.90px;top:821.35px;font-size:23.63px;transform:scaleX(1.0500)">i</span>
<span class="b" style="left:958.77px;top:821.35px;font-size:23.63px;transform:scaleX(1.0500)">e</span>
<span class="r" style="left:133.28px;top:862.40px;font-size:23.63px;transform:scaleX(1.0500)">O</span>
<span class="r" style="left:152.13px;top:862.40px;font-size:23.63px;transform:scaleX(1.0500)">m</span>
<span class="r" style="left:172.85px;top:862.40px;font-size:23.63px;transform:scaleX(1.0500)">s</span>
<span class="r" style="left:184.73px;top:862.40px;font-size:23.63px;transform:scaleX(1.0500)">c</span>
<span class="r" style="left:197.16px;top:862.40px;font-size:23.63px;transform:scaleX(1.0500)">h</span>
<span class="r" style="left:211.52px;top:862.40px;font-size:23.63px;transform:scaleX(1.0500)">r</span>
<span class="r" style="left:220.54px;top:862.40px;font-size:23.63px;transform:scaleX(1.0500)">i</span>
<span class="r" style="left:226.70px;top:862.40px;font-size:23.63px;transform:scaleX(1.0500)">j</span>
<span class="r" style="left:232.90px;top:862.40px;font-size:23.63px;transform:scaleX(1.0500)">v</span>
<span class="r" style="left:245.99px;top:862.40px;font-size:23.63px;transform:scaleX(1.0500)">i</span>
<span class="r" style="left:251.96px;top:862.40px;font-size:23.63px;transform:scaleX(1.0500)">n</span>
<span class="r" style="left:266.03px;top:862.40px;font-size:23.63px;transform:scaleX(1.0500)">g</span>
<span class="r" style="left:361.49px;top:862.40px;font-size:23.63px;transform:scaleX(1.0500)">C</span>
<span class="r" style="left:378.08px;top:862.40px;font-size:23.63px;transform:scaleX(1.0500)">o</span>
<span class="r" style="left:392.24px;top:862.40px;font-size:23.63px;transform:scaleX(1.0500)">m</span>
<span class="r" style="left:413.85px;top:862.40px;font-size:23.63px;transform:scaleX(1.0500)">m</span>
<span class="r" style="left:435.12px;top:862.40px;font-size:23.63px;transform:scaleX(1.0500)">u</span>
<span class="r" style="left:449.18px;top:862.40px;font-size:23.63px;transform:scaleX(1.0500)">n</span>
<span class="r" style="left:463.43px;top:862.40px;font-size:23.63px;transform:scaleX(1.0500)">i</span>
<span class="r" style="left:469.17px;top:862.40px;font-size:23.63px;transform:scaleX(1.0500)">c</span>
<span class="r" style="left:481.37px;top:862.40px;font-size:23.63px;transform:scaleX(1.0500)">a</span>
<span class="r" style="left:495.97px;top:862.40px;font-size:23.63px;transform:scaleX(1.0500)">t</span>
<span class="r" style="left:504.09px;top:862.40px;font-size:23.63px;transform:scaleX(1.0500)">i</span>
<span class="r" style="left:509.85px;top:862.40px;font-size:23.63px;transform:scaleX(1.0500)">e</span>
<span class="r" style="left:362.81px;top:888.25px;font-size:23.63px;transform:scaleX(1.0500)">w</span>
<span class="r" style="left:380.74px;top:888.25px;font-size:23.63px;transform:scaleX(1.0500)">a</span>
<span class="r" style="left:394.34px;top:888.25px;font-size:23.63px;transform:scaleX(1.0500)">a</span>
<span class="r" style="left:408.46px;top:888.25px;font-size:23.63px;transform:scaleX(1.0500)">r</span>
<span class="r" style="left:417.30px;top:888.25px;font-size:23.63px;transform:scaleX(1.0500)">b</span>
<span class="r" style="left:431.56px;top:888.25px;font-size:23.63px;transform:scaleX(1.0500)">i</span>
<span class="r" style="left:437.73px;top:888.25px;font-size:23.63px;transform:scaleX(1.0500)">j</span>
<span class="r" style="left:450.76px;top:888.25px;font-size:23.63px;transform:scaleX(1.0500)">d</span>
<span class="r" style="left:464.62px;top:888.25px;font-size:23.63px;transform:scaleX(1.0500)">e</span>
<span class="r" style="left:362.59px;top:914.10px;font-size:23.63px;transform:scaleX(1.0500)">o</span>
<span class="r" style="left:376.70px;top:914.10px;font-size:23.63px;transform:scaleX(1.0500)">r</span>
<span class="r" style="left:385.34px;top:914.10px;font-size:23.63px;transform:scaleX(1.0500)">g</span>
<span class="r" style="left:398.99px;top:914.10px;font-size:23.63px;transform:scaleX(1.0500)">a</span>
<span class="r" style="left:412.81px;top:914.10px;font-size:23.63px;transform:scaleX(1.0500)">n</span>
<span class="r" style="left:427.07px;top:914.10px;font-size:23.63px;transform:scaleX(1.0500)">i</span>
<span class="r" style="left:432.48px;top:914.10px;font-size:23.63px;transform:scaleX(1.0500)">s</span>
<span class="r" style="left:444.36px;top:914.10px;font-size:23.63px;transform:scaleX(1.0500)">a</span>
<span class="r" style="left:458.96px;top:914.10px;font-size:23.63px;transform:scaleX(1.0500)">t</span>
<span class="r" style="left:467.08px;top:914.10px;font-size:23.63px;transform:scaleX(1.0500)">i</span>
<span class="r" style="left:472.85px;top:914.10px;font-size:23.63px;transform:scaleX(1.0500)">e</span>
<span class="r" style="left:493.24px;top:914.10px;font-size:23.63px;transform:scaleX(1.0500)">z</span>
<span class="r" style="left:505.19px;top:914.10px;font-size:23.63px;transform:scaleX(1.0500)">e</span>
<span class="r" style="left:519.24px;top:914.10px;font-size:23.63px;transform:scaleX(1.0500)">l</span>
<span class="r" style="left:525.54px;top:914.10px;font-size:23.63px;transform:scaleX(1.0500)">f</span>
<span class="r" style="left:362.60px;top:939.95px;font-size:23.63px;transform:scaleX(1.0500)">c</span>
<span class="r" style="left:374.82px;top:939.95px;font-size:23.63px;transform:scaleX(1.0500)">e</span>
<span class="r" style="left:388.68px;top:939.95px;font-size:23.63px;transform:scaleX(1.0500)">n</span>
<span class="r" style="left:403.51px;top:939.95px;font-size:23.63px;transform:scaleX(1.0500)">t</span>
<span class="r" style="left:411.74px;top:939.95px;font-size:23.63px;transform:scaleX(1.0500)">r</span>
<span class="r" style="left:420.33px;top:939.95px;font-size:23.63px;transform:scaleX(1.0500)">a</span>
<span class="r" style="left:433.92px;top:939.95px;font-size:23.63px;transform:scaleX(1.0500)">a</span>
<span class="r" style="left:447.94px;top:939.95px;font-size:23.63px;transform:scaleX(1.0500)">l</span>
<span class="r" style="left:460.41px;top:939.95px;font-size:23.63px;transform:scaleX(1.0500)">s</span>
<span class="r" style="left:473.29px;top:939.95px;font-size:23.63px;transform:scaleX(1.0500)">t</span>
<span class="r" style="left:480.99px;top:939.95px;font-size:23.63px;transform:scaleX(1.0500)">a</span>
<span class="r" style="left:494.58px;top:939.95px;font-size:23.63px;transform:scaleX(1.0500)">a</span>
<span class="r" style="left:509.18px;top:939.95px;font-size:23.63px;transform:scaleX(1.0500)">t</span>
<span class="r" style="left:517.06px;top:939.95px;font-size:23.63px;transform:scaleX(1.0500)">,</span>
<span class="r" style="left:362.84px;top:965.80px;font-size:23.63px;transform:scaleX(1.0500)">g</span>
<span class="r" style="left:376.71px;top:965.80px;font-size:23.63px;transform:scaleX(1.0500)">e</span>
<span class="r" style="left:390.86px;top:965.80px;font-size:23.63px;transform:scaleX(1.0500)">r</span>
<span class="r" style="left:399.88px;top:965.80px;font-size:23.63px;transform:scaleX(1.0500)">i</span>
<span class="r" style="left:405.61px;top:965.80px;font-size:23.63px;transform:scaleX(1.0500)">c</span>
<span class="r" style="left:418.05px;top:965.80px;font-size:23.63px;transform:scaleX(1.0500)">h</span>
<span class="r" style="left:432.88px;top:965.80px;font-size:23.63px;transform:scaleX(1.0500)">t</span>
<span class="r" style="left:447.61px;top:965.80px;font-size:23.63px;transform:scaleX(1.0500)">o</span>
<span class="r" style="left:461.44px;top:965.80px;font-size:23.63px;transform:scaleX(1.0500)">p</span>
<span class="r" style="left:482.57px;top:965.80px;font-size:23.63px;transform:scaleX(1.0500)">d</span>
<span class="r" style="left:496.44px;top:965.80px;font-size:23.63px;transform:scaleX(1.0500)">e</span>
<span class="r" style="left:362.84px;top:991.65px;font-size:23.63px;transform:scaleX(1.0500)">b</span>
<span class="r" style="left:376.71px;top:991.65px;font-size:23.63px;transform:scaleX(1.0500)">e</span>
<span class="r" style="left:390.36px;top:991.65px;font-size:23.63px;transform:scaleX(1.0500)">e</span>
<span class="r" style="left:404.41px;top:991.65px;font-size:23.63px;transform:scaleX(1.0500)">l</span>
<span class="r" style="left:410.39px;top:991.65px;font-size:23.63px;transform:scaleX(1.0500)">d</span>
<span class="r" style="left:424.69px;top:991.65px;font-size:23.63px;transform:scaleX(1.0500)">v</span>
<span class="r" style="left:437.34px;top:991.65px;font-size:23.63px;transform:scaleX(1.0500)">o</span>
<span class="r" style="left:451.46px;top:991.65px;font-size:23.63px;transform:scaleX(1.0500)">r</span>
<span class="r" style="left:460.43px;top:991.65px;font-size:23.63px;transform:scaleX(1.0500)">m</span>
<span class="r" style="left:481.70px;top:991.65px;font-size:23.63px;transform:scaleX(1.0500)">i</span>
<span class="r" style="left:487.66px;top:991.65px;font-size:23.63px;transform:scaleX(1.0500)">n</span>
<span class="r" style="left:501.74px;top:991.65px;font-size:23.63px;transform:scaleX(1.0500)">g</span>
<span class="r" style="left:523.09px;top:991.65px;font-size:23.63px;transform:scaleX(1.0500)">v</span>
<span class="r" style="left:535.76px;top:991.65px;font-size:23.63px;transform:scaleX(1.0500)">a</span>
<span class="r" style="left:549.58px;top:991.65px;font-size:23.63px;transform:scaleX(1.0500)">n</span>
<span class="r" style="left:362.84px;top:1017.50px;font-size:23.63px;transform:scaleX(1.0500)">d</span>
<span class="r" style="left:376.71px;top:1017.50px;font-size:23.63px;transform:scaleX(1.0500)">e</span>
<span class="r" style="left:397.37px;top:1017.50px;font-size:23.63px;transform:scaleX(1.0500)">o</span>
<span class="r" style="left:411.49px;top:1017.50px;font-size:23.63px;transform:scaleX(1.0500)">r</span>
<span class="r" style="left:420.12px;top:1017.50px;font-size:23.63px;transform:scaleX(1.0500)">g</span>
<span class="r" style="left:433.77px;top:1017.50px;font-size:23.63px;transform:scaleX(1.0500)">a</span>
<span class="r" style="left:447.60px;top:1017.50px;font-size:23.63px;transform:scaleX(1.0500)">n</span>
<span class="r" style="left:461.85px;top:1017.50px;font-size:23.63px;transform:scaleX(1.0500)">i</span>
<span class="r" style="left:467.27px;top:1017.50px;font-size:23.63px;transform:scaleX(1.0500)">s</span>
<span class="r" style="left:479.15px;top:1017.50px;font-size:23.63px;transform:scaleX(1.0500)">a</span>
<span class="r" style="left:493.74px;top:1017.50px;font-size:23.63px;transform:scaleX(1.0500)">t</span>
<span class="r" style="left:501.87px;top:1017.50px;font-size:23.63px;transform:scaleX(1.0500)">i</span>
<span class="r" style="left:507.63px;top:1017.50px;font-size:23.63px;transform:scaleX(1.0500)">e</span>
<span class="r" style="left:528.55px;top:1017.50px;font-size:23.63px;transform:scaleX(1.0500)">b</span>
<span class="r" style="left:542.81px;top:1017.50px;font-size:23.63px;transform:scaleX(1.0500)">i</span>
<span class="r" style="left:548.98px;top:1017.50px;font-size:23.63px;transform:scaleX(1.0500)">j</span>
<span class="r" style="left:362.28px;top:1043.35px;font-size:23.63px;transform:scaleX(1.0500)">s</span>
<span class="r" style="left:375.16px;top:1043.35px;font-size:23.63px;transform:scaleX(1.0500)">t</span>
<span class="r" style="left:382.86px;top:1043.35px;font-size:23.63px;transform:scaleX(1.0500)">a</span>
<span class="r" style="left:396.77px;top:1043.35px;font-size:23.63px;transform:scaleX(1.0500)">k</span>
<span class="r" style="left:408.93px;top:1043.35px;font-size:23.63px;transform:scaleX(1.0500)">e</span>
<span class="r" style="left:422.39px;top:1043.35px;font-size:23.63px;transform:scaleX(1.0500)">h</span>
<span class="r" style="left:436.21px;top:1043.35px;font-size:23.63px;transform:scaleX(1.0500)">o</span>
<span class="r" style="left:450.22px;top:1043.35px;font-size:23.63px;transform:scaleX(1.0500)">l</span>
<span class="r" style="left:456.20px;top:1043.35px;font-size:23.63px;transform:scaleX(1.0500)">d</span>
<span class="r" style="left:470.06px;top:1043.35px;font-size:23.63px;transform:scaleX(1.0500)">e</span>
<span class="r" style="left:484.22px;top:1043.35px;font-size:23.63px;transform:scaleX(1.0500)">r</span>
<span class="r" style="left:492.48px;top:1043.35px;font-size:23.63px;transform:scaleX(1.0500)">s</span>
<span class="r" style="left:579.39px;top:862.40px;font-size:23.63px;transform:scaleX(1.0500)">C</span>
<span class="r" style="left:595.98px;top:862.40px;font-size:23.63px;transform:scaleX(1.0500)">o</span>
<span class="r" style="left:610.14px;top:862.40px;font-size:23.63px;transform:scaleX(1.0500)">m</span>
<span class="r" style="left:631.75px;top:862.40px;font-size:23.63px;transform:scaleX(1.0500)">m</span>
<span class="r" style="left:653.02px;top:862.40px;font-size:23.63px;transform:scaleX(1.0500)">u</span>
<span class="r" style="left:667.08px;top:862.40px;font-size:23.63px;transform:scaleX(1.0500)">n</span>
<span class="r" style="left:681.33px;top:862.40px;font-size:23.63px;transform:scaleX(1.0500)">i</span>
<span class="r" style="left:687.07px;top:862.40px;font-size:23.63px;transform:scaleX(1.0500)">c</span>
<span class="r" style="left:699.27px;top:862.40px;font-size:23.63px;transform:scaleX(1.0500)">a</span>
<span class="r" style="left:713.87px;top:862.40px;font-size:23.63px;transform:scaleX(1.0500)">t</span>
<span class="r" style="left:721.99px;top:862.40px;font-size:23.63px;transform:scaleX(1.0500)">i</span>
<span class="r" style="left:727.75px;top:862.40px;font-size:23.63px;transform:scaleX(1.0500)">e</span>
<span class="r" style="left:580.74px;top:888.25px;font-size:23.63px;transform:scaleX(1.0500)">g</span>
<span class="r" style="left:594.61px;top:888.25px;font-size:23.63px;transform:scaleX(1.0500)">e</span>
<span class="r" style="left:608.76px;top:888.25px;font-size:23.63px;transform:scaleX(1.0500)">r</span>
<span class="r" style="left:617.78px;top:888.25px;font-size:23.63px;transform:scaleX(1.0500)">i</span>
<span class="r" style="left:623.51px;top:888.25px;font-size:23.63px;transform:scaleX(1.0500)">c</span>
<span class="r" style="left:635.95px;top:888.25px;font-size:23.63px;transform:scaleX(1.0500)">h</span>
<span class="r" style="left:650.78px;top:888.25px;font-size:23.63px;transform:scaleX(1.0500)">t</span>
<span class="r" style="left:665.51px;top:888.25px;font-size:23.63px;transform:scaleX(1.0500)">o</span>
<span class="r" style="left:679.34px;top:888.25px;font-size:23.63px;transform:scaleX(1.0500)">p</span>
<span class="r" style="left:580.50px;top:914.10px;font-size:23.63px;transform:scaleX(1.0500)">c</span>
<span class="r" style="left:592.69px;top:914.10px;font-size:23.63px;transform:scaleX(1.0500)">o</span>
<span class="r" style="left:606.50px;top:914.10px;font-size:23.63px;transform:scaleX(1.0500)">n</span>
<span class="r" style="left:620.01px;top:914.10px;font-size:23.63px;transform:scaleX(1.0500)">s</span>
<span class="r" style="left:632.12px;top:914.10px;font-size:23.63px;transform:scaleX(1.0500)">u</span>
<span class="r" style="left:646.52px;top:914.10px;font-size:23.63px;transform:scaleX(1.0500)">m</span>
<span class="r" style="left:667.59px;top:914.10px;font-size:23.63px;transform:scaleX(1.0500)">e</span>
<span class="r" style="left:681.44px;top:914.10px;font-size:23.63px;transform:scaleX(1.0500)">n</span>
<span class="r" style="left:696.27px;top:914.10px;font-size:23.63px;transform:scaleX(1.0500)">t</span>
<span class="r" style="left:711.05px;top:914.10px;font-size:23.63px;transform:scaleX(1.0500)">e</span>
<span class="r" style="left:724.90px;top:914.10px;font-size:23.63px;transform:scaleX(1.0500)">n</span>
<span class="r" style="left:739.12px;top:914.10px;font-size:23.63px;transform:scaleX(1.0500)">/</span>
<span class="r" style="left:746.19px;top:914.10px;font-size:23.63px;transform:scaleX(1.0500)">o</span>
<span class="r" style="left:760.34px;top:914.10px;font-size:23.63px;transform:scaleX(1.0500)">f</span>
<span class="r" style="left:581.50px;top:939.95px;font-size:23.63px;transform:scaleX(1.0500)">t</span>
<span class="r" style="left:589.43px;top:939.95px;font-size:23.63px;transform:scaleX(1.0500)">u</span>
<span class="r" style="left:602.94px;top:939.95px;font-size:23.63px;transform:scaleX(1.0500)">s</span>
<span class="r" style="left:614.49px;top:939.95px;font-size:23.63px;transform:scaleX(1.0500)">s</span>
<span class="r" style="left:626.40px;top:939.95px;font-size:23.63px;transform:scaleX(1.0500)">e</span>
<span class="r" style="left:640.26px;top:939.95px;font-size:23.63px;transform:scaleX(1.0500)">n</span>
<span class="r" style="left:654.32px;top:939.95px;font-size:23.63px;transform:scaleX(1.0500)">h</span>
<span class="r" style="left:668.14px;top:939.95px;font-size:23.63px;transform:scaleX(1.0500)">a</span>
<span class="r" style="left:681.97px;top:939.95px;font-size:23.63px;transform:scaleX(1.0500)">n</span>
<span class="r" style="left:696.04px;top:939.95px;font-size:23.63px;transform:scaleX(1.0500)">d</span>
<span class="r" style="left:709.91px;top:939.95px;font-size:23.63px;transform:scaleX(1.0500)">e</span>
<span class="r" style="left:723.96px;top:939.95px;font-size:23.63px;transform:scaleX(1.0500)">l</span>
<span class="r" style="left:736.74px;top:939.95px;font-size:23.63px;transform:scaleX(1.0500)">o</span>
<span class="r" style="left:750.89px;top:939.95px;font-size:23.63px;transform:scaleX(1.0500)">m</span>
<span class="r" style="left:580.74px;top:965.80px;font-size:23.63px;transform:scaleX(1.0500)">d</span>
<span class="r" style="left:595.01px;top:965.80px;font-size:23.63px;transform:scaleX(1.0500)">i</span>
<span class="r" style="left:600.77px;top:965.80px;font-size:23.63px;transform:scaleX(1.0500)">e</span>
<span class="r" style="left:614.63px;top:965.80px;font-size:23.63px;transform:scaleX(1.0500)">n</span>
<span class="r" style="left:628.13px;top:965.80px;font-size:23.63px;transform:scaleX(1.0500)">s</span>
<span class="r" style="left:580.82px;top:991.65px;font-size:23.63px;transform:scaleX(1.0500)">k</span>
<span class="r" style="left:592.98px;top:991.65px;font-size:23.63px;transform:scaleX(1.0500)">e</span>
<span class="r" style="left:606.44px;top:991.65px;font-size:23.63px;transform:scaleX(1.0500)">n</span>
<span class="r" style="left:620.50px;top:991.65px;font-size:23.63px;transform:scaleX(1.0500)">n</span>
<span class="r" style="left:634.75px;top:991.65px;font-size:23.63px;transform:scaleX(1.0500)">i</span>
<span class="r" style="left:640.17px;top:991.65px;font-size:23.63px;transform:scaleX(1.0500)">s</span>
<span class="r" style="left:652.44px;top:991.65px;font-size:23.63px;transform:scaleX(1.0500)">/</span>
<span class="r" style="left:659.76px;top:991.65px;font-size:23.63px;transform:scaleX(1.0500)">h</span>
<span class="r" style="left:673.57px;top:991.65px;font-size:23.63px;transform:scaleX(1.0500)">o</span>
<span class="r" style="left:687.39px;top:991.65px;font-size:23.63px;transform:scaleX(1.0500)">u</span>
<span class="r" style="left:701.46px;top:991.65px;font-size:23.63px;transform:scaleX(1.0500)">d</span>
<span class="r" style="left:715.73px;top:991.65px;font-size:23.63px;transform:scaleX(1.0500)">i</span>
<span class="r" style="left:721.70px;top:991.65px;font-size:23.63px;transform:scaleX(1.0500)">n</span>
<span class="r" style="left:735.77px;top:991.65px;font-size:23.63px;transform:scaleX(1.0500)">g</span>
<span class="r" style="left:756.68px;top:991.65px;font-size:23.63px;transform:scaleX(1.0500)">e</span>
<span class="r" style="left:770.54px;top:991.65px;font-size:23.63px;transform:scaleX(1.0500)">n</span>
<span class="r" style="left:580.74px;top:1017.50px;font-size:23.63px;transform:scaleX(1.0500)">g</span>
<span class="r" style="left:594.61px;top:1017.50px;font-size:23.63px;transform:scaleX(1.0500)">e</span>
<span class="r" style="left:608.47px;top:1017.50px;font-size:23.63px;transform:scaleX(1.0500)">d</span>
<span class="r" style="left:622.84px;top:1017.50px;font-size:23.63px;transform:scaleX(1.0500)">r</span>
<span class="r" style="left:631.43px;top:1017.50px;font-size:23.63px;transform:scaleX(1.0500)">a</span>
<span class="r" style="left:645.27px;top:1017.50px;font-size:23.63px;transform:scaleX(1.0500)">g</span>
<span class="r" style="left:667.17px;top:1017.50px;font-size:23.63px;transform:scaleX(1.0500)">t</span>
<span class="r" style="left:674.89px;top:1017.50px;font-size:23.63px;transform:scaleX(1.0500)">e</span>
<span class="r" style="left:580.74px;top:1043.35px;font-size:23.63px;transform:scaleX(1.0500)">b</span>
<span class="r" style="left:594.61px;top:1043.35px;font-size:23.63px;transform:scaleX(1.0500)">e</span>
<span class="r" style="left:607.97px;top:1043.35px;font-size:23.63px;transform:scaleX(1.0500)">ï</span>
<span class="r" style="left:614.63px;top:1043.35px;font-size:23.63px;transform:scaleX(1.0500)">n</span>
<span class="r" style="left:628.92px;top:1043.35px;font-size:23.63px;transform:scaleX(1.0500)">v</span>
<span class="r" style="left:642.01px;top:1043.35px;font-size:23.63px;transform:scaleX(1.0500)">l</span>
<span class="r" style="left:647.74px;top:1043.35px;font-size:23.63px;transform:scaleX(1.0500)">o</span>
<span class="r" style="left:661.35px;top:1043.35px;font-size:23.63px;transform:scaleX(1.0500)">e</span>
<span class="r" style="left:675.21px;top:1043.35px;font-size:23.63px;transform:scaleX(1.0500)">d</span>
<span class="r" style="left:689.08px;top:1043.35px;font-size:23.63px;transform:scaleX(1.0500)">e</span>
<span class="r" style="left:702.93px;top:1043.35px;font-size:23.63px;transform:scaleX(1.0500)">n</span>
<span class="r" style="left:724.82px;top:1043.35px;font-size:23.63px;transform:scaleX(1.0500)">t</span>
<span class="r" style="left:732.54px;top:1043.35px;font-size:23.63px;transform:scaleX(1.0500)">e</span>
<span class="r" style="left:746.39px;top:1043.35px;font-size:23.63px;transform:scaleX(1.0500)">n</span>
<span class="r" style="left:580.74px;top:1069.20px;font-size:23.63px;transform:scaleX(1.0500)">g</span>
<span class="r" style="left:594.81px;top:1069.20px;font-size:23.63px;transform:scaleX(1.0500)">u</span>
<span class="r" style="left:608.87px;top:1069.20px;font-size:23.63px;transform:scaleX(1.0500)">n</span>
<span class="r" style="left:622.38px;top:1069.20px;font-size:23.63px;transform:scaleX(1.0500)">s</span>
<span class="r" style="left:635.26px;top:1069.20px;font-size:23.63px;transform:scaleX(1.0500)">t</span>
<span class="r" style="left:642.99px;top:1069.20px;font-size:23.63px;transform:scaleX(1.0500)">e</span>
<span class="r" style="left:664.12px;top:1069.20px;font-size:23.63px;transform:scaleX(1.0500)">v</span>
<span class="r" style="left:676.79px;top:1069.20px;font-size:23.63px;transform:scaleX(1.0500)">a</span>
<span class="r" style="left:690.62px;top:1069.20px;font-size:23.63px;transform:scaleX(1.0500)">n</span>
<span class="r" style="left:711.73px;top:1069.20px;font-size:23.63px;transform:scaleX(1.0500)">h</span>
<span class="r" style="left:725.58px;top:1069.20px;font-size:23.63px;transform:scaleX(1.0500)">e</span>
<span class="r" style="left:740.21px;top:1069.20px;font-size:23.63px;transform:scaleX(1.0500)">t</span>
<span class="r" style="left:581.07px;top:1095.05px;font-size:23.63px;transform:scaleX(1.0500)">m</span>
<span class="r" style="left:602.11px;top:1095.05px;font-size:23.63px;transform:scaleX(1.0500)">a</span>
<span class="r" style="left:616.24px;top:1095.05px;font-size:23.63px;transform:scaleX(1.0500)">r</span>
<span class="r" style="left:625.15px;top:1095.05px;font-size:23.63px;transform:scaleX(1.0500)">k</span>
<span class="r" style="left:637.30px;top:1095.05px;font-size:23.63px;transform:scaleX(1.0500)">e</span>
<span class="r" style="left:651.54px;top:1095.05px;font-size:23.63px;transform:scaleX(1.0500)">t</span>
<span class="r" style="left:659.66px;top:1095.05px;font-size:23.63px;transform:scaleX(1.0500)">i</span>
<span class="r" style="left:665.63px;top:1095.05px;font-size:23.63px;transform:scaleX(1.0500)">n</span>
<span class="r" style="left:679.70px;top:1095.05px;font-size:23.63px;transform:scaleX(1.0500)">g</span>
<span class="r" style="left:693.78px;top:1095.05px;font-size:23.63px;transform:scaleX(1.0500)">b</span>
<span class="r" style="left:707.65px;top:1095.05px;font-size:23.63px;transform:scaleX(1.0500)">e</span>
<span class="r" style="left:721.69px;top:1095.05px;font-size:23.63px;transform:scaleX(1.0500)">l</span>
<span class="r" style="left:727.46px;top:1095.05px;font-size:23.63px;transform:scaleX(1.0500)">e</span>
<span class="r" style="left:741.51px;top:1095.05px;font-size:23.63px;transform:scaleX(1.0500)">i</span>
<span class="r" style="left:747.49px;top:1095.05px;font-size:23.63px;transform:scaleX(1.0500)">d</span>
<span class="r" style="left:796.79px;top:862.40px;font-size:23.63px;transform:scaleX(1.0500)">C</span>
<span class="r" style="left:813.38px;top:862.40px;font-size:23.63px;transform:scaleX(1.0500)">o</span>
<span class="r" style="left:827.54px;top:862.40px;font-size:23.63px;transform:scaleX(1.0500)">m</span>
<span class="r" style="left:849.15px;top:862.40px;font-size:23.63px;transform:scaleX(1.0500)">m</span>
<span class="r" style="left:870.42px;top:862.40px;font-size:23.63px;transform:scaleX(1.0500)">u</span>
<span class="r" style="left:884.48px;top:862.40px;font-size:23.63px;transform:scaleX(1.0500)">n</span>
<span class="r" style="left:898.73px;top:862.40px;font-size:23.63px;transform:scaleX(1.0500)">i</span>
<span class="r" style="left:904.47px;top:862.40px;font-size:23.63px;transform:scaleX(1.0500)">c</span>
<span class="r" style="left:916.67px;top:862.40px;font-size:23.63px;transform:scaleX(1.0500)">a</span>
<span class="r" style="left:931.27px;top:862.40px;font-size:23.63px;transform:scaleX(1.0500)">t</span>
<span class="r" style="left:939.39px;top:862.40px;font-size:23.63px;transform:scaleX(1.0500)">i</span>
<span class="r" style="left:945.15px;top:862.40px;font-size:23.63px;transform:scaleX(1.0500)">e</span>
<span class="r" style="left:798.90px;top:888.25px;font-size:23.63px;transform:scaleX(1.0500)">t</span>
<span class="r" style="left:806.83px;top:888.25px;font-size:23.63px;transform:scaleX(1.0500)">u</span>
<span class="r" style="left:820.34px;top:888.25px;font-size:23.63px;transform:scaleX(1.0500)">s</span>
<span class="r" style="left:831.89px;top:888.25px;font-size:23.63px;transform:scaleX(1.0500)">s</span>
<span class="r" style="left:843.80px;top:888.25px;font-size:23.63px;transform:scaleX(1.0500)">e</span>
<span class="r" style="left:857.66px;top:888.25px;font-size:23.63px;transform:scaleX(1.0500)">n</span>
<span class="r" style="left:878.78px;top:888.25px;font-size:23.63px;transform:scaleX(1.0500)">p</span>
<span class="r" style="left:892.65px;top:888.25px;font-size:23.63px;transform:scaleX(1.0500)">e</span>
<span class="r" style="left:906.80px;top:888.25px;font-size:23.63px;transform:scaleX(1.0500)">r</span>
<span class="r" style="left:915.07px;top:888.25px;font-size:23.63px;transform:scaleX(1.0500)">s</span>
<span class="r" style="left:926.94px;top:888.25px;font-size:23.63px;transform:scaleX(1.0500)">o</span>
<span class="r" style="left:940.75px;top:888.25px;font-size:23.63px;transform:scaleX(1.0500)">n</span>
<span class="r" style="left:954.61px;top:888.25px;font-size:23.63px;transform:scaleX(1.0500)">e</span>
<span class="r" style="left:968.46px;top:888.25px;font-size:23.63px;transform:scaleX(1.0500)">n</span>
<span class="r" style="left:797.93px;top:914.10px;font-size:23.63px;transform:scaleX(1.0500)">e</span>
<span class="r" style="left:811.78px;top:914.10px;font-size:23.63px;transform:scaleX(1.0500)">n</span>
<span class="r" style="left:832.90px;top:914.10px;font-size:23.63px;transform:scaleX(1.0500)">g</span>
<span class="r" style="left:847.27px;top:914.10px;font-size:23.63px;transform:scaleX(1.0500)">r</span>
<span class="r" style="left:855.61px;top:914.10px;font-size:23.63px;transform:scaleX(1.0500)">o</span>
<span class="r" style="left:868.98px;top:914.10px;font-size:23.63px;transform:scaleX(1.0500)">e</span>
<span class="r" style="left:882.84px;top:914.10px;font-size:23.63px;transform:scaleX(1.0500)">p</span>
<span class="r" style="left:896.71px;top:914.10px;font-size:23.63px;transform:scaleX(1.0500)">e</span>
<span class="r" style="left:910.56px;top:914.10px;font-size:23.63px;transform:scaleX(1.0500)">n</span>
<span class="r" style="left:798.14px;top:939.95px;font-size:23.63px;transform:scaleX(1.0500)">b</span>
<span class="r" style="left:812.41px;top:939.95px;font-size:23.63px;transform:scaleX(1.0500)">i</span>
<span class="r" style="left:818.38px;top:939.95px;font-size:23.63px;transform:scaleX(1.0500)">n</span>
<span class="r" style="left:832.44px;top:939.95px;font-size:23.63px;transform:scaleX(1.0500)">n</span>
<span class="r" style="left:846.29px;top:939.95px;font-size:23.63px;transform:scaleX(1.0500)">e</span>
<span class="r" style="left:860.15px;top:939.95px;font-size:23.63px;transform:scaleX(1.0500)">n</span>
<span class="r" style="left:881.05px;top:939.95px;font-size:23.63px;transform:scaleX(1.0500)">e</span>
<span class="r" style="left:894.70px;top:939.95px;font-size:23.63px;transform:scaleX(1.0500)">e</span>
<span class="r" style="left:908.56px;top:939.95px;font-size:23.63px;transform:scaleX(1.0500)">n</span>
<span class="r" style="left:797.89px;top:965.80px;font-size:23.63px;transform:scaleX(1.0500)">o</span>
<span class="r" style="left:812.00px;top:965.80px;font-size:23.63px;transform:scaleX(1.0500)">r</span>
<span class="r" style="left:820.64px;top:965.80px;font-size:23.63px;transform:scaleX(1.0500)">g</span>
<span class="r" style="left:834.29px;top:965.80px;font-size:23.63px;transform:scaleX(1.0500)">a</span>
<span class="r" style="left:848.11px;top:965.80px;font-size:23.63px;transform:scaleX(1.0500)">n</span>
<span class="r" style="left:862.37px;top:965.80px;font-size:23.63px;transform:scaleX(1.0500)">i</span>
<span class="r" style="left:867.78px;top:965.80px;font-size:23.63px;transform:scaleX(1.0500)">s</span>
<span class="r" style="left:879.66px;top:965.80px;font-size:23.63px;transform:scaleX(1.0500)">a</span>
<span class="r" style="left:894.26px;top:965.80px;font-size:23.63px;transform:scaleX(1.0500)">t</span>
<span class="r" style="left:902.38px;top:965.80px;font-size:23.63px;transform:scaleX(1.0500)">i</span>
<span class="r" style="left:908.15px;top:965.80px;font-size:23.63px;transform:scaleX(1.0500)">e</span>
<span class="r" style="left:133.78px;top:1134.50px;font-size:23.63px;transform:scaleX(1.0500)">D</span>
<span class="r" style="left:151.17px;top:1134.50px;font-size:23.63px;transform:scaleX(1.0500)">o</span>
<span class="r" style="left:164.78px;top:1134.50px;font-size:23.63px;transform:scaleX(1.0500)">e</span>
<span class="r" style="left:178.83px;top:1134.50px;font-size:23.63px;transform:scaleX(1.0500)">l</span>
<span class="r" style="left:361.86px;top:1134.50px;font-size:23.63px;transform:scaleX(1.0500)">U</span>
<span class="r" style="left:379.26px;top:1134.50px;font-size:23.63px;transform:scaleX(1.0500)">i</span>
<span class="r" style="left:386.00px;top:1134.50px;font-size:23.63px;transform:scaleX(1.0500)">t</span>
<span class="r" style="left:393.73px;top:1134.50px;font-size:23.63px;transform:scaleX(1.0500)">e</span>
<span class="r" style="left:407.77px;top:1134.50px;font-size:23.63px;transform:scaleX(1.0500)">i</span>
<span class="r" style="left:413.74px;top:1134.50px;font-size:23.63px;transform:scaleX(1.0500)">n</span>
<span class="r" style="left:427.82px;top:1134.50px;font-size:23.63px;transform:scaleX(1.0500)">d</span>
<span class="r" style="left:441.68px;top:1134.50px;font-size:23.63px;transform:scaleX(1.0500)">e</span>
<span class="r" style="left:455.73px;top:1134.50px;font-size:23.63px;transform:scaleX(1.0500)">l</span>
<span class="r" style="left:461.89px;top:1134.50px;font-size:23.63px;transform:scaleX(1.0500)">i</span>
<span class="r" style="left:468.06px;top:1134.50px;font-size:23.63px;transform:scaleX(1.0500)">j</span>
<span class="r" style="left:474.12px;top:1134.50px;font-size:23.63px;transform:scaleX(1.0500)">k</span>
<span class="r" style="left:487.03px;top:1134.50px;font-size:23.63px;transform:scaleX(1.0500)">:</span>
<span class="b" style="left:363.34px;top:1160.35px;font-size:23.63px;transform:scaleX(1.0500)">r</span>
<span class="b" style="left:374.27px;top:1160.35px;font-size:23.63px;transform:scaleX(1.0500)">e</span>
<span class="b" style="left:389.05px;top:1160.35px;font-size:23.63px;transform:scaleX(1.0500)">p</span>
<span class="b" style="left:404.89px;top:1160.35px;font-size:23.63px;transform:scaleX(1.0500)">u</span>
<span class="b" style="left:421.53px;top:1160.35px;font-size:23.63px;transform:scaleX(1.0500)">t</span>
<span class="b" style="left:431.55px;top:1160.35px;font-size:23.63px;transform:scaleX(1.0500)">a</span>
<span class="b" style="left:447.11px;top:1160.35px;font-size:23.63px;transform:scaleX(1.0500)">t</span>
<span class="b" style="left:456.90px;top:1160.35px;font-size:23.63px;transform:scaleX(1.0500)">i</span>
<span class="b" style="left:464.77px;top:1160.35px;font-size:23.63px;transform:scaleX(1.0500)">e</span>
<span class="r" style="left:486.61px;top:1160.35px;font-size:23.63px;transform:scaleX(1.0500)">v</span>
<span class="r" style="left:499.27px;top:1160.35px;font-size:23.63px;transform:scaleX(1.0500)">a</span>
<span class="r" style="left:513.10px;top:1160.35px;font-size:23.63px;transform:scaleX(1.0500)">n</span>
<span class="r" style="left:534.22px;top:1160.35px;font-size:23.63px;transform:scaleX(1.0500)">d</span>
<span class="r" style="left:548.09px;top:1160.35px;font-size:23.63px;transform:scaleX(1.0500)">e</span>
<span class="r" style="left:362.59px;top:1186.20px;font-size:23.63px;transform:scaleX(1.0500)">o</span>
<span class="r" style="left:376.70px;top:1186.20px;font-size:23.63px;transform:scaleX(1.0500)">r</span>
<span class="r" style="left:385.34px;top:1186.20px;font-size:23.63px;transform:scaleX(1.0500)">g</span>
<span class="r" style="left:398.99px;top:1186.20px;font-size:23.63px;transform:scaleX(1.0500)">a</span>
<span class="r" style="left:412.81px;top:1186.20px;font-size:23.63px;transform:scaleX(1.0500)">n</span>
<span class="r" style="left:427.07px;top:1186.20px;font-size:23.63px;transform:scaleX(1.0500)">i</span>
<span class="r" style="left:432.48px;top:1186.20px;font-size:23.63px;transform:scaleX(1.0500)">s</span>
<span class="r" style="left:444.36px;top:1186.20px;font-size:23.63px;transform:scaleX(1.0500)">a</span>
<span class="r" style="left:458.96px;top:1186.20px;font-size:23.63px;transform:scaleX(1.0500)">t</span>
<span class="r" style="left:467.08px;top:1186.20px;font-size:23.63px;transform:scaleX(1.0500)">i</span>
<span class="r" style="left:472.85px;top:1186.20px;font-size:23.63px;transform:scaleX(1.0500)">e</span>
<span class="r" style="left:362.81px;top:1212.05px;font-size:23.63px;transform:scaleX(1.0500)">w</span>
<span class="r" style="left:380.74px;top:1212.05px;font-size:23.63px;transform:scaleX(1.0500)">a</span>
<span class="r" style="left:394.34px;top:1212.05px;font-size:23.63px;transform:scaleX(1.0500)">a</span>
<span class="r" style="left:408.46px;top:1212.05px;font-size:23.63px;transform:scaleX(1.0500)">r</span>
<span class="r" style="left:417.30px;top:1212.05px;font-size:23.63px;transform:scaleX(1.0500)">b</span>
<span class="r" style="left:431.13px;top:1212.05px;font-size:23.63px;transform:scaleX(1.0500)">o</span>
<span class="r" style="left:445.24px;top:1212.05px;font-size:23.63px;transform:scaleX(1.0500)">r</span>
<span class="r" style="left:453.88px;top:1212.05px;font-size:23.63px;transform:scaleX(1.0500)">g</span>
<span class="r" style="left:467.55px;top:1212.05px;font-size:23.63px;transform:scaleX(1.0500)">e</span>
<span class="r" style="left:481.40px;top:1212.05px;font-size:23.63px;transform:scaleX(1.0500)">n</span>
<span class="r" style="left:579.76px;top:1134.50px;font-size:23.63px;transform:scaleX(1.0500)">U</span>
<span class="r" style="left:597.16px;top:1134.50px;font-size:23.63px;transform:scaleX(1.0500)">i</span>
<span class="r" style="left:603.90px;top:1134.50px;font-size:23.63px;transform:scaleX(1.0500)">t</span>
<span class="r" style="left:611.63px;top:1134.50px;font-size:23.63px;transform:scaleX(1.0500)">e</span>
<span class="r" style="left:625.67px;top:1134.50px;font-size:23.63px;transform:scaleX(1.0500)">i</span>
<span class="r" style="left:631.64px;top:1134.50px;font-size:23.63px;transform:scaleX(1.0500)">n</span>
<span class="r" style="left:645.72px;top:1134.50px;font-size:23.63px;transform:scaleX(1.0500)">d</span>
<span class="r" style="left:659.58px;top:1134.50px;font-size:23.63px;transform:scaleX(1.0500)">e</span>
<span class="r" style="left:673.63px;top:1134.50px;font-size:23.63px;transform:scaleX(1.0500)">l</span>
<span class="r" style="left:679.79px;top:1134.50px;font-size:23.63px;transform:scaleX(1.0500)">i</span>
<span class="r" style="left:685.96px;top:1134.50px;font-size:23.63px;transform:scaleX(1.0500)">j</span>
<span class="r" style="left:692.02px;top:1134.50px;font-size:23.63px;transform:scaleX(1.0500)">k</span>
<span class="r" style="left:704.93px;top:1134.50px;font-size:23.63px;transform:scaleX(1.0500)">:</span>
<span class="b" style="left:580.93px;top:1160.35px;font-size:23.63px;transform:scaleX(1.0500)">v</span>
<span class="b" style="left:595.69px;top:1160.35px;font-size:23.63px;transform:scaleX(1.0500)">e</span>
<span class="b" style="left:610.75px;top:1160.35px;font-size:23.63px;transform:scaleX(1.0500)">r</span>
<span class="b" style="left:621.53px;top:1160.35px;font-size:23.63px;transform:scaleX(1.0500)">k</span>
<span class="b" style="left:635.55px;top:1160.35px;font-size:23.63px;transform:scaleX(1.0500)">o</span>
<span class="b" style="left:650.49px;top:1160.35px;font-size:23.63px;transform:scaleX(1.0500)">o</span>
<span class="b" style="left:666.05px;top:1160.35px;font-size:23.63px;transform:scaleX(1.0500)">p</span>
<span class="r" style="left:681.65px;top:1160.35px;font-size:23.63px;transform:scaleX(1.0500)">,</span>
<span class="r" style="left:580.49px;top:1186.20px;font-size:23.63px;transform:scaleX(1.0500)">o</span>
<span class="r" style="left:594.65px;top:1186.20px;font-size:23.63px;transform:scaleX(1.0500)">m</span>
<span class="r" style="left:615.40px;top:1186.20px;font-size:23.63px;transform:scaleX(1.0500)">z</span>
<span class="r" style="left:627.35px;top:1186.20px;font-size:23.63px;transform:scaleX(1.0500)">e</span>
<span class="r" style="left:641.98px;top:1186.20px;font-size:23.63px;transform:scaleX(1.0500)">t</span>
<span class="r" style="left:650.07px;top:1186.20px;font-size:23.63px;transform:scaleX(1.0500)">/</span>
<span class="r" style="left:657.37px;top:1186.20px;font-size:23.63px;transform:scaleX(1.0500)">w</span>
<span class="r" style="left:675.72px;top:1186.20px;font-size:23.63px;transform:scaleX(1.0500)">i</span>
<span class="r" style="left:681.69px;top:1186.20px;font-size:23.63px;transform:scaleX(1.0500)">n</span>
<span class="r" style="left:695.20px;top:1186.20px;font-size:23.63px;transform:scaleX(1.0500)">s</span>
<span class="r" style="left:708.08px;top:1186.20px;font-size:23.63px;transform:scaleX(1.0500)">t</span>
<span class="r" style="left:797.16px;top:1134.50px;font-size:23.63px;transform:scaleX(1.0500)">U</span>
<span class="r" style="left:814.56px;top:1134.50px;font-size:23.63px;transform:scaleX(1.0500)">i</span>
<span class="r" style="left:821.30px;top:1134.50px;font-size:23.63px;transform:scaleX(1.0500)">t</span>
<span class="r" style="left:829.03px;top:1134.50px;font-size:23.63px;transform:scaleX(1.0500)">e</span>
<span class="r" style="left:843.07px;top:1134.50px;font-size:23.63px;transform:scaleX(1.0500)">i</span>
<span class="r" style="left:849.04px;top:1134.50px;font-size:23.63px;transform:scaleX(1.0500)">n</span>
<span class="r" style="left:863.12px;top:1134.50px;font-size:23.63px;transform:scaleX(1.0500)">d</span>
<span class="r" style="left:876.98px;top:1134.50px;font-size:23.63px;transform:scaleX(1.0500)">e</span>
<span class="r" style="left:891.03px;top:1134.50px;font-size:23.63px;transform:scaleX(1.0500)">l</span>
<span class="r" style="left:897.19px;top:1134.50px;font-size:23.63px;transform:scaleX(1.0500)">i</span>
<span class="r" style="left:903.36px;top:1134.50px;font-size:23.63px;transform:scaleX(1.0500)">j</span>
<span class="r" style="left:909.42px;top:1134.50px;font-size:23.63px;transform:scaleX(1.0500)">k</span>
<span class="r" style="left:922.33px;top:1134.50px;font-size:23.63px;transform:scaleX(1.0500)">:</span>
<span class="b" style="left:798.33px;top:1160.35px;font-size:23.63px;transform:scaleX(1.0500)">v</span>
<span class="b" style="left:813.09px;top:1160.35px;font-size:23.63px;transform:scaleX(1.0500)">e</span>
<span class="b" style="left:828.15px;top:1160.35px;font-size:23.63px;transform:scaleX(1.0500)">r</span>
<span class="b" style="left:838.81px;top:1160.35px;font-size:23.63px;transform:scaleX(1.0500)">b</span>
<span class="b" style="left:854.37px;top:1160.35px;font-size:23.63px;transform:scaleX(1.0500)">o</span>
<span class="b" style="left:869.89px;top:1160.35px;font-size:23.63px;transform:scaleX(1.0500)">n</span>
<span class="b" style="left:885.73px;top:1160.35px;font-size:23.63px;transform:scaleX(1.0500)">d</span>
<span class="b" style="left:901.87px;top:1160.35px;font-size:23.63px;transform:scaleX(1.0500)">e</span>
<span class="b" style="left:916.61px;top:1160.35px;font-size:23.63px;transform:scaleX(1.0500)">n</span>
<span class="b" style="left:932.41px;top:1160.35px;font-size:23.63px;transform:scaleX(1.0500)">h</span>
<span class="b" style="left:948.50px;top:1160.35px;font-size:23.63px;transform:scaleX(1.0500)">e</span>
<span class="b" style="left:963.28px;top:1160.35px;font-size:23.63px;transform:scaleX(1.0500)">i</span>
<span class="b" style="left:970.89px;top:1160.35px;font-size:23.63px;transform:scaleX(1.0500)">d</span>
<span class="r" style="left:133.78px;top:1251.70px;font-size:23.63px;transform:scaleX(1.0500)">D</span>
<span class="r" style="left:151.17px;top:1251.70px;font-size:23.63px;transform:scaleX(1.0500)">o</span>
<span class="r" style="left:164.78px;top:1251.70px;font-size:23.63px;transform:scaleX(1.0500)">e</span>
<span class="r" style="left:178.83px;top:1251.70px;font-size:23.63px;transform:scaleX(1.0500)">l</span>
<span class="r" style="left:184.81px;top:1251.70px;font-size:23.63px;transform:scaleX(1.0500)">g</span>
<span class="r" style="left:199.18px;top:1251.70px;font-size:23.63px;transform:scaleX(1.0500)">r</span>
<span class="r" style="left:207.52px;top:1251.70px;font-size:23.63px;transform:scaleX(1.0500)">o</span>
<span class="r" style="left:220.88px;top:1251.70px;font-size:23.63px;transform:scaleX(1.0500)">e</span>
<span class="r" style="left:234.75px;top:1251.70px;font-size:23.63px;transform:scaleX(1.0500)">p</span>
<span class="r" style="left:362.01px;top:1251.70px;font-size:23.63px;transform:scaleX(1.0500)">A</span>
<span class="r" style="left:378.20px;top:1251.70px;font-size:23.63px;transform:scaleX(1.0500)">l</span>
<span class="r" style="left:384.37px;top:1251.70px;font-size:23.63px;transform:scaleX(1.0500)">l</span>
<span class="r" style="left:390.13px;top:1251.70px;font-size:23.63px;transform:scaleX(1.0500)">e</span>
<span class="r" style="left:410.83px;top:1251.70px;font-size:23.63px;transform:scaleX(1.0500)">e</span>
<span class="r" style="left:424.72px;top:1251.70px;font-size:23.63px;transform:scaleX(1.0500)">x</span>
<span class="r" style="left:438.20px;top:1251.70px;font-size:23.63px;transform:scaleX(1.0500)">t</span>
<span class="r" style="left:445.92px;top:1251.70px;font-size:23.63px;transform:scaleX(1.0500)">e</span>
<span class="r" style="left:460.07px;top:1251.70px;font-size:23.63px;transform:scaleX(1.0500)">r</span>
<span class="r" style="left:468.70px;top:1251.70px;font-size:23.63px;transform:scaleX(1.0500)">n</span>
<span class="r" style="left:482.36px;top:1251.70px;font-size:23.63px;transform:scaleX(1.0500)">e</span>
<span class="r" style="left:362.84px;top:1277.55px;font-size:23.63px;transform:scaleX(1.0500)">p</span>
<span class="r" style="left:376.68px;top:1277.55px;font-size:23.63px;transform:scaleX(1.0500)">a</span>
<span class="r" style="left:390.81px;top:1277.55px;font-size:23.63px;transform:scaleX(1.0500)">r</span>
<span class="r" style="left:400.40px;top:1277.55px;font-size:23.63px;transform:scaleX(1.0500)">t</span>
<span class="r" style="left:408.52px;top:1277.55px;font-size:23.63px;transform:scaleX(1.0500)">i</span>
<span class="r" style="left:414.69px;top:1277.55px;font-size:23.63px;transform:scaleX(1.0500)">j</span>
<span class="r" style="left:420.45px;top:1277.55px;font-size:23.63px;transform:scaleX(1.0500)">e</span>
<span class="r" style="left:434.30px;top:1277.55px;font-size:23.63px;transform:scaleX(1.0500)">n</span>
<span class="r" style="left:579.39px;top:1251.70px;font-size:23.63px;transform:scaleX(1.0500)">C</span>
<span class="r" style="left:595.98px;top:1251.70px;font-size:23.63px;transform:scaleX(1.0500)">o</span>
<span class="r" style="left:609.80px;top:1251.70px;font-size:23.63px;transform:scaleX(1.0500)">n</span>
<span class="r" style="left:623.30px;top:1251.70px;font-size:23.63px;transform:scaleX(1.0500)">s</span>
<span class="r" style="left:635.41px;top:1251.70px;font-size:23.63px;transform:scaleX(1.0500)">u</span>
<span class="r" style="left:649.82px;top:1251.70px;font-size:23.63px;transform:scaleX(1.0500)">m</span>
<span class="r" style="left:670.88px;top:1251.70px;font-size:23.63px;transform:scaleX(1.0500)">e</span>
<span class="r" style="left:684.73px;top:1251.70px;font-size:23.63px;transform:scaleX(1.0500)">n</span>
<span class="r" style="left:699.57px;top:1251.70px;font-size:23.63px;transform:scaleX(1.0500)">t</span>
<span class="r" style="left:707.29px;top:1251.70px;font-size:23.63px;transform:scaleX(1.0500)">e</span>
<span class="r" style="left:721.14px;top:1251.70px;font-size:23.63px;transform:scaleX(1.0500)">n</span>
<span class="r" style="left:735.15px;top:1251.70px;font-size:23.63px;transform:scaleX(1.0500)">,</span>
<span class="r" style="left:580.18px;top:1277.55px;font-size:23.63px;transform:scaleX(1.0500)">D</span>
<span class="r" style="left:596.92px;top:1277.55px;font-size:23.63px;transform:scaleX(1.0500)">M</span>
<span class="r" style="left:615.98px;top:1277.55px;font-size:23.63px;transform:scaleX(1.0500)">U</span>
<span class="r" style="left:640.04px;top:1277.55px;font-size:23.63px;transform:scaleX(1.0500)">e</span>
<span class="r" style="left:653.89px;top:1277.55px;font-size:23.63px;transform:scaleX(1.0500)">n</span>
<span class="r" style="left:581.50px;top:1303.40px;font-size:23.63px;transform:scaleX(1.0500)">t</span>
<span class="r" style="left:589.43px;top:1303.40px;font-size:23.63px;transform:scaleX(1.0500)">u</span>
<span class="r" style="left:602.94px;top:1303.40px;font-size:23.63px;transform:scaleX(1.0500)">s</span>
<span class="r" style="left:614.49px;top:1303.40px;font-size:23.63px;transform:scaleX(1.0500)">s</span>
<span class="r" style="left:626.40px;top:1303.40px;font-size:23.63px;transform:scaleX(1.0500)">e</span>
<span class="r" style="left:640.26px;top:1303.40px;font-size:23.63px;transform:scaleX(1.0500)">n</span>
<span class="r" style="left:654.32px;top:1303.40px;font-size:23.63px;transform:scaleX(1.0500)">h</span>
<span class="r" style="left:668.14px;top:1303.40px;font-size:23.63px;transform:scaleX(1.0500)">a</span>
<span class="r" style="left:681.97px;top:1303.40px;font-size:23.63px;transform:scaleX(1.0500)">n</span>
<span class="r" style="left:696.04px;top:1303.40px;font-size:23.63px;transform:scaleX(1.0500)">d</span>
<span class="r" style="left:709.91px;top:1303.40px;font-size:23.63px;transform:scaleX(1.0500)">e</span>
<span class="r" style="left:723.96px;top:1303.40px;font-size:23.63px;transform:scaleX(1.0500)">l</span>
<span class="r" style="left:737.05px;top:1303.40px;font-size:23.63px;transform:scaleX(1.0500)">(</span>
<span class="r" style="left:745.65px;top:1303.40px;font-size:23.63px;transform:scaleX(1.0500)">d</span>
<span class="r" style="left:759.51px;top:1303.40px;font-size:23.63px;transform:scaleX(1.0500)">e</span>
<span class="r" style="left:580.18px;top:1329.25px;font-size:23.63px;transform:scaleX(1.0500)">s</span>
<span class="r" style="left:593.06px;top:1329.25px;font-size:23.63px;transform:scaleX(1.0500)">t</span>
<span class="r" style="left:600.76px;top:1329.25px;font-size:23.63px;transform:scaleX(1.0500)">a</span>
<span class="r" style="left:614.67px;top:1329.25px;font-size:23.63px;transform:scaleX(1.0500)">k</span>
<span class="r" style="left:626.83px;top:1329.25px;font-size:23.63px;transform:scaleX(1.0500)">e</span>
<span class="r" style="left:640.29px;top:1329.25px;font-size:23.63px;transform:scaleX(1.0500)">h</span>
<span class="r" style="left:654.11px;top:1329.25px;font-size:23.63px;transform:scaleX(1.0500)">o</span>
<span class="r" style="left:668.12px;top:1329.25px;font-size:23.63px;transform:scaleX(1.0500)">l</span>
<span class="r" style="left:674.10px;top:1329.25px;font-size:23.63px;transform:scaleX(1.0500)">d</span>
<span class="r" style="left:687.96px;top:1329.25px;font-size:23.63px;transform:scaleX(1.0500)">e</span>
<span class="r" style="left:702.12px;top:1329.25px;font-size:23.63px;transform:scaleX(1.0500)">r</span>
<span class="r" style="left:581.37px;top:1355.10px;font-size:23.63px;transform:scaleX(1.0500)">‘</span>
<span class="r" style="left:587.87px;top:1355.10px;font-size:23.63px;transform:scaleX(1.0500)">k</span>
<span class="r" style="left:600.83px;top:1355.10px;font-size:23.63px;transform:scaleX(1.0500)">l</span>
<span class="r" style="left:606.56px;top:1355.10px;font-size:23.63px;transform:scaleX(1.0500)">a</span>
<span class="r" style="left:620.39px;top:1355.10px;font-size:23.63px;transform:scaleX(1.0500)">n</span>
<span class="r" style="left:635.22px;top:1355.10px;font-size:23.63px;transform:scaleX(1.0500)">t</span>
<span class="r" style="left:643.79px;top:1355.10px;font-size:23.63px;transform:scaleX(1.0500)">’</span>
<span class="r" style="left:650.27px;top:1355.10px;font-size:23.63px;transform:scaleX(1.0500)">)</span>
<span class="r" style="left:797.83px;top:1251.70px;font-size:23.63px;transform:scaleX(1.0500)">I</span>
<span class="r" style="left:804.67px;top:1251.70px;font-size:23.63px;transform:scaleX(1.0500)">n</span>
<span class="r" style="left:819.51px;top:1251.70px;font-size:23.63px;transform:scaleX(1.0500)">t</span>
<span class="r" style="left:827.23px;top:1251.70px;font-size:23.63px;transform:scaleX(1.0500)">e</span>
<span class="r" style="left:841.38px;top:1251.70px;font-size:23.63px;transform:scaleX(1.0500)">r</span>
<span class="r" style="left:850.01px;top:1251.70px;font-size:23.63px;transform:scaleX(1.0500)">n</span>
<span class="r" style="left:863.67px;top:1251.70px;font-size:23.63px;transform:scaleX(1.0500)">e</span>
<span class="r" style="left:884.59px;top:1251.70px;font-size:23.63px;transform:scaleX(1.0500)">g</span>
<span class="r" style="left:898.96px;top:1251.70px;font-size:23.63px;transform:scaleX(1.0500)">r</span>
<span class="r" style="left:907.29px;top:1251.70px;font-size:23.63px;transform:scaleX(1.0500)">o</span>
<span class="r" style="left:920.66px;top:1251.70px;font-size:23.63px;transform:scaleX(1.0500)">e</span>
<span class="r" style="left:934.52px;top:1251.70px;font-size:23.63px;transform:scaleX(1.0500)">p</span>
<span class="r" style="left:948.39px;top:1251.70px;font-size:23.63px;transform:scaleX(1.0500)">e</span>
<span class="r" style="left:962.24px;top:1251.70px;font-size:23.63px;transform:scaleX(1.0500)">n</span>
<span class="r" style="left:798.14px;top:1277.55px;font-size:23.63px;transform:scaleX(1.0500)">b</span>
<span class="r" style="left:812.41px;top:1277.55px;font-size:23.63px;transform:scaleX(1.0500)">i</span>
<span class="r" style="left:818.38px;top:1277.55px;font-size:23.63px;transform:scaleX(1.0500)">n</span>
<span class="r" style="left:832.44px;top:1277.55px;font-size:23.63px;transform:scaleX(1.0500)">n</span>
<span class="r" style="left:846.29px;top:1277.55px;font-size:23.63px;transform:scaleX(1.0500)">e</span>
<span class="r" style="left:860.15px;top:1277.55px;font-size:23.63px;transform:scaleX(1.0500)">n</span>
<span class="r" style="left:881.05px;top:1277.55px;font-size:23.63px;transform:scaleX(1.0500)">e</span>
<span class="r" style="left:894.70px;top:1277.55px;font-size:23.63px;transform:scaleX(1.0500)">e</span>
<span class="r" style="left:908.56px;top:1277.55px;font-size:23.63px;transform:scaleX(1.0500)">n</span>
<span class="r" style="left:797.89px;top:1303.40px;font-size:23.63px;transform:scaleX(1.0500)">o</span>
<span class="r" style="left:812.00px;top:1303.40px;font-size:23.63px;transform:scaleX(1.0500)">r</span>
<span class="r" style="left:820.64px;top:1303.40px;font-size:23.63px;transform:scaleX(1.0500)">g</span>
<span class="r" style="left:834.29px;top:1303.40px;font-size:23.63px;transform:scaleX(1.0500)">a</span>
<span class="r" style="left:848.11px;top:1303.40px;font-size:23.63px;transform:scaleX(1.0500)">n</span>
<span class="r" style="left:862.37px;top:1303.40px;font-size:23.63px;transform:scaleX(1.0500)">i</span>
<span class="r" style="left:867.78px;top:1303.40px;font-size:23.63px;transform:scaleX(1.0500)">s</span>
<span class="r" style="left:879.66px;top:1303.40px;font-size:23.63px;transform:scaleX(1.0500)">a</span>
<span class="r" style="left:894.26px;top:1303.40px;font-size:23.63px;transform:scaleX(1.0500)">t</span>
<span class="r" style="left:902.38px;top:1303.40px;font-size:23.63px;transform:scaleX(1.0500)">i</span>
<span class="r" style="left:908.15px;top:1303.40px;font-size:23.63px;transform:scaleX(1.0500)">e</span>
<span class="r" style="left:798.20px;top:1329.25px;font-size:23.63px;transform:scaleX(1.0500)">(</span>
<span class="r" style="left:807.13px;top:1329.25px;font-size:23.63px;transform:scaleX(1.0500)">m</span>
<span class="r" style="left:828.19px;top:1329.25px;font-size:23.63px;transform:scaleX(1.0500)">e</span>
<span class="r" style="left:842.06px;top:1329.25px;font-size:23.63px;transform:scaleX(1.0500)">d</span>
<span class="r" style="left:855.92px;top:1329.25px;font-size:23.63px;transform:scaleX(1.0500)">e</span>
<span class="r" style="left:869.76px;top:1329.25px;font-size:23.63px;transform:scaleX(1.0500)">w</span>
<span class="r" style="left:887.72px;top:1329.25px;font-size:23.63px;transform:scaleX(1.0500)">e</span>
<span class="r" style="left:901.87px;top:1329.25px;font-size:23.63px;transform:scaleX(1.0500)">r</span>
<span class="r" style="left:910.78px;top:1329.25px;font-size:23.63px;transform:scaleX(1.0500)">k</span>
<span class="r" style="left:922.94px;top:1329.25px;font-size:23.63px;transform:scaleX(1.0500)">e</span>
<span class="r" style="left:936.70px;top:1329.25px;font-size:23.63px;transform:scaleX(1.0500)">r</span>
<span class="r" style="left:944.96px;top:1329.25px;font-size:23.63px;transform:scaleX(1.0500)">s</span>
<span class="r" style="left:957.03px;top:1329.25px;font-size:23.63px;transform:scaleX(1.0500)">,</span>
<span class="r" style="left:797.24px;top:1355.10px;font-size:23.63px;transform:scaleX(1.0500)">M</span>
<span class="r" style="left:816.34px;top:1355.10px;font-size:23.63px;transform:scaleX(1.0500)">T</span>
<span class="r" style="left:830.77px;top:1355.10px;font-size:23.63px;transform:scaleX(1.0500)">,</span>
<span class="r" style="left:843.55px;top:1355.10px;font-size:23.63px;transform:scaleX(1.0500)">R</span>
<span class="r" style="left:860.57px;top:1355.10px;font-size:23.63px;transform:scaleX(1.0500)">v</span>
<span class="r" style="left:872.68px;top:1355.10px;font-size:23.63px;transform:scaleX(1.0500)">B</span>
<span class="r" style="left:895.54px;top:1355.10px;font-size:23.63px;transform:scaleX(1.0500)">e</span>
<span class="r" style="left:909.34px;top:1355.10px;font-size:23.63px;transform:scaleX(1.0500)">.</span>
<span class="r" style="left:916.46px;top:1355.10px;font-size:23.63px;transform:scaleX(1.0500)">d</span>
<span class="r" style="left:930.47px;top:1355.10px;font-size:23.63px;transform:scaleX(1.0500)">.</span>
<span class="r" style="left:937.64px;top:1355.10px;font-size:23.63px;transform:scaleX(1.0500)">)</span>
</div>
</body></html>
